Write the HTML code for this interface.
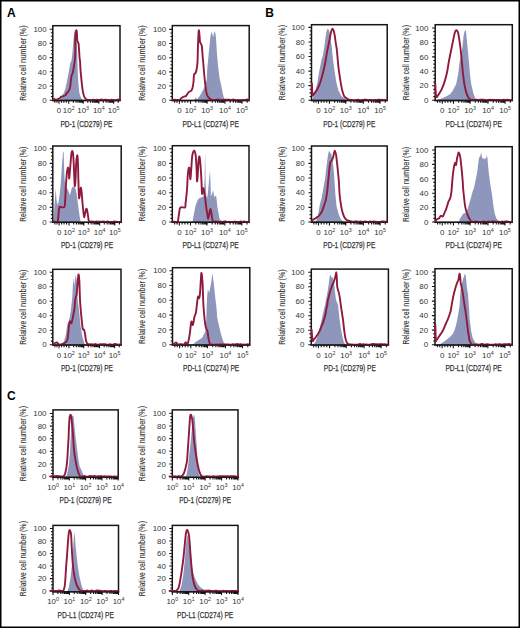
<!DOCTYPE html>
<html><head><meta charset="utf-8"><style>
html,body{margin:0;padding:0;background:#fff;width:520px;height:628px;overflow:hidden;}
svg{display:block;}
text{font-family:"Liberation Sans", sans-serif;fill:#333;}
.t{font-size:7.9px;}
.s{font-size:5.3px;}
.yt{font-size:9px;stroke:#3a3a3a;stroke-width:0.12px;}
.xt{font-size:8.8px;stroke:#3a3a3a;stroke-width:0.25px;}
.pl{font-size:12px;font-weight:bold;fill:#000;}
</style></head><body>
<svg width="520" height="628" viewBox="0 0 520 628">
<rect x="0" y="0" width="520" height="628" fill="#fff"/>
<g><polygon points="59.3,100.2 60.5,98.2 62,95.8 63.9,92.8 65.5,88.2 67,81.2 68.5,73.5 70.3,63 71.5,60.4 72.5,51.9 73.5,40.4 74.2,32.7 75,30 75.8,30.5 76.5,35 77,45 77.3,55 77.4,62 77.8,73.5 78.5,85.1 79.3,92.8 80.8,97.4 82.8,100.2" fill="#8f96bb"/><path d="M49.7 100.2H52.8M50.9 96.65H52.8M50.9 93.1H52.8M50.9 89.55H52.8M49.7 86H52.8M50.9 82.45H52.8M50.9 78.9H52.8M50.9 75.35H52.8M49.7 71.8H52.8M50.9 68.25H52.8M50.9 64.7H52.8M50.9 61.15H52.8M49.7 57.6H52.8M50.9 54.05H52.8M50.9 50.5H52.8M50.9 46.95H52.8M49.7 43.4H52.8M50.9 39.85H52.8M50.9 36.3H52.8M50.9 32.75H52.8M49.7 29.2H52.8M58.98 100.5V103.7M68.73 100.5V103.7M83.17 100.5V103.7M98.83 100.5V103.7M113.68 100.5V103.7M73.32 100.5V102.8M76 100.5V102.8M77.91 100.5V102.8M79.39 100.5V102.8M80.6 100.5V102.8M81.62 100.5V102.8M82.5 100.5V102.8M83.28 100.5V102.8M87.77 100.5V102.8M90.45 100.5V102.8M92.36 100.5V102.8M93.84 100.5V102.8M95.04 100.5V102.8M96.07 100.5V102.8M96.95 100.5V102.8M97.73 100.5V102.8M103.42 100.5V102.8M106.11 100.5V102.8M108.02 100.5V102.8M109.49 100.5V102.8M110.7 100.5V102.8M111.72 100.5V102.8M112.61 100.5V102.8M113.39 100.5V102.8M118.28 100.5V102.8M61.42 100.5V102.8M63.85 100.5V102.8M66.29 100.5V102.8M54.86 100.5V102.8M56.92 100.5V102.8" stroke="#161616" stroke-width="1.1" fill="none"/><rect x="52.8" y="25.7" width="67.2" height="74.8" fill="none" stroke="#161616" stroke-width="1.5"/><path d="M53 99.95C53.22 99.78 53.77 98.9 54.3 98.9C54.83 98.9 55.55 99.95 56.2 99.95C56.85 99.95 57.62 99.19 58.2 98.9C58.78 98.61 59.2 98.58 59.7 98.2C60.2 97.82 60.62 96.93 61.2 96.6C61.78 96.27 62.48 96.45 63.2 96.2C63.92 95.95 64.87 95.67 65.5 95.1C66.13 94.53 66.5 93.45 67 92.8C67.5 92.15 67.98 92.1 68.5 91.2C69.02 90.3 69.72 89.07 70.1 87.4C70.48 85.73 70.55 83.13 70.8 81.2C71.05 79.27 71.27 77.2 71.6 75.8C71.93 74.4 72.42 74.33 72.8 72.8C73.18 71.27 73.6 68.4 73.9 66.6C74.2 64.8 74.38 63.8 74.6 62C74.82 60.2 75.08 58.13 75.2 55.8C75.32 53.47 75.3 49.93 75.3 48C75.3 46.07 75.2 46.12 75.2 44.2C75.2 42.28 75.13 38.8 75.3 36.5C75.47 34.2 75.93 31.03 76.2 30.4C76.47 29.77 76.72 31.03 76.9 32.7C77.08 34.37 77.03 38.6 77.3 40.4C77.57 42.2 78.25 42.48 78.5 43.5C78.75 44.52 78.68 45.1 78.8 46.5C78.92 47.9 79.07 49.98 79.2 51.9C79.33 53.82 79.45 56.32 79.6 58C79.75 59.68 79.95 60.05 80.1 62C80.25 63.95 80.32 67.13 80.5 69.7C80.68 72.27 80.95 74.83 81.2 77.4C81.45 79.97 81.73 82.8 82 85.1C82.27 87.4 82.48 89.42 82.8 91.2C83.12 92.98 83.52 94.63 83.9 95.8C84.28 96.97 84.52 97.51 85.1 98.2C85.68 98.89 86.58 99.66 87.4 99.95C88.22 100.24 89.29 99.92 90 99.95C90.71 99.98 91.11 100.18 91.67 100.15C92.22 100.12 92.78 99.78 93.33 99.77C93.89 99.75 94.44 100.1 95 100.07C95.56 100.04 96.11 99.58 96.67 99.59C97.22 99.59 97.78 100.06 98.33 100.11C98.89 100.17 99.44 100.01 100 99.91C100.56 99.82 101.11 99.51 101.67 99.55C102.22 99.59 102.78 100.15 103.33 100.17C103.89 100.18 104.44 99.67 105 99.63C105.56 99.59 106.11 99.89 106.67 99.94C107.22 99.99 107.78 99.86 108.33 99.91C108.89 99.95 109.44 100.25 110 100.2C110.56 100.15 111.11 99.65 111.67 99.62C112.22 99.58 112.78 99.89 113.33 99.99C113.89 100.1 114.44 100.24 115 100.25C115.56 100.26 116.11 100.17 116.67 100.05C117.22 99.94 117.78 99.58 118.33 99.56C118.89 99.55 119.72 99.89 120 99.95" fill="none" stroke="#901a3c" stroke-width="1.9" stroke-linejoin="round" stroke-linecap="round"/><path d="M52.05 100.5H120.75" stroke="#161616" stroke-width="1.5" stroke-opacity="0.6"/><text x="46.6" y="102.9" text-anchor="end" class="t">0</text><text x="46.6" y="88.7" text-anchor="end" class="t">20</text><text x="46.6" y="74.5" text-anchor="end" class="t">40</text><text x="46.6" y="60.3" text-anchor="end" class="t">60</text><text x="46.6" y="46.1" text-anchor="end" class="t">80</text><text x="46.6" y="31.9" text-anchor="end" class="t">100</text><g class="yt" transform="translate(26.3 63.1) rotate(-90)"><text x="-37.6" textLength="23.8" lengthAdjust="spacingAndGlyphs">Relative</text><text x="-11.9" textLength="10.2" lengthAdjust="spacingAndGlyphs">cell</text><text x="0.2" textLength="25.2" lengthAdjust="spacingAndGlyphs">number</text><text x="26.6" textLength="11" lengthAdjust="spacingAndGlyphs">(%)</text></g><text x="58.98" y="113" text-anchor="middle" class="t">0</text><text x="68.73" y="113" text-anchor="middle" class="t">10<tspan class="s" dy="-3">2</tspan></text><text x="83.17" y="113" text-anchor="middle" class="t">10<tspan class="s" dy="-3">3</tspan></text><text x="98.83" y="113" text-anchor="middle" class="t">10<tspan class="s" dy="-3">4</tspan></text><text x="113.68" y="113" text-anchor="middle" class="t">10<tspan class="s" dy="-3">5</tspan></text><text x="86.4" y="126.5" text-anchor="middle" class="xt" textLength="52" lengthAdjust="spacingAndGlyphs">PD-1 (CD279) PE</text></g>
<g><polygon points="194,100.2 195.5,97.5 197,99.3 198.7,97.4 201.1,93.7 203.6,88.8 205.5,84 206.7,80.2 207.3,68 208.5,55.7 209.7,43.4 210.5,36 211.6,31.7 212.4,34 213.2,37.3 214,33 214.6,31.1 215.3,33 215.9,37.3 216.5,46 217.1,55.7 218.3,68 219.5,77.8 221.4,86.3 222.6,92.5 223.8,97.4 225,100.2" fill="#8f96bb"/><path d="M169.2 100.2H172.3M170.4 96.66H172.3M170.4 93.12H172.3M170.4 89.58H172.3M169.2 86.04H172.3M170.4 82.5H172.3M170.4 78.96H172.3M170.4 75.42H172.3M169.2 71.88H172.3M170.4 68.34H172.3M170.4 64.8H172.3M170.4 61.26H172.3M169.2 57.72H172.3M170.4 54.18H172.3M170.4 50.64H172.3M170.4 47.1H172.3M169.2 43.56H172.3M170.4 40.02H172.3M170.4 36.48H172.3M170.4 32.94H172.3M169.2 29.4H172.3M179.37 100.5V103.7M190.53 100.5V103.7M207.06 100.5V103.7M224.98 100.5V103.7M241.97 100.5V103.7M195.78 100.5V102.8M198.85 100.5V102.8M201.04 100.5V102.8M202.73 100.5V102.8M204.11 100.5V102.8M205.28 100.5V102.8M206.29 100.5V102.8M207.18 100.5V102.8M212.31 100.5V102.8M215.39 100.5V102.8M217.57 100.5V102.8M219.26 100.5V102.8M220.64 100.5V102.8M221.81 100.5V102.8M222.82 100.5V102.8M223.72 100.5V102.8M230.23 100.5V102.8M233.31 100.5V102.8M235.49 100.5V102.8M237.18 100.5V102.8M238.56 100.5V102.8M239.73 100.5V102.8M240.74 100.5V102.8M241.63 100.5V102.8M247.23 100.5V102.8M182.16 100.5V102.8M184.95 100.5V102.8M187.74 100.5V102.8M174.66 100.5V102.8M177.02 100.5V102.8" stroke="#161616" stroke-width="1.1" fill="none"/><rect x="172.3" y="25.6" width="76.9" height="74.9" fill="none" stroke="#161616" stroke-width="1.5"/><path d="M173 99.95C173.33 99.92 174.33 99.78 175 99.78C175.67 99.78 176.25 99.92 177 99.95C177.75 99.98 178.75 100.28 179.5 99.95C180.25 99.62 180.92 98.49 181.5 98C182.08 97.51 182.5 97.25 183 97C183.5 96.75 184 96.67 184.5 96.5C185 96.33 185.42 96.58 186 96C186.58 95.42 187.42 93.75 188 93C188.58 92.25 189 91.83 189.5 91.5C190 91.17 190.5 91.58 191 91C191.5 90.42 192.08 89.5 192.5 88C192.92 86.5 193.25 84.17 193.5 82C193.75 79.83 193.67 76.5 194 75C194.33 73.5 195.08 73.83 195.5 73C195.92 72.17 196.17 71.83 196.5 70C196.83 68.17 197.27 65.67 197.5 62C197.73 58.33 197.78 51.6 197.9 48C198.02 44.4 198.05 43.33 198.2 40.4C198.35 37.47 198.57 31.05 198.8 30.4C199.03 29.75 199.4 34.58 199.6 36.5C199.8 38.42 199.73 40.62 200 41.9C200.27 43.18 200.88 43.43 201.2 44.2C201.52 44.97 201.72 45.22 201.9 46.5C202.08 47.78 202.15 49.97 202.3 51.9C202.45 53.83 202.63 56.25 202.8 58.1C202.97 59.95 203.1 60.68 203.3 63C203.5 65.32 203.72 68.83 204 72C204.28 75.17 204.67 79 205 82C205.33 85 205.67 87.83 206 90C206.33 92.17 206.5 93.67 207 95C207.5 96.33 208.17 97.17 209 98C209.83 98.83 211.23 99.6 212 99.95C212.77 100.3 213.07 100.1 213.61 100.09C214.14 100.09 214.68 99.97 215.22 99.91C215.75 99.85 216.29 99.78 216.83 99.71C217.36 99.65 217.9 99.44 218.43 99.52C218.97 99.6 219.51 100.09 220.04 100.18C220.58 100.27 221.12 100.11 221.65 100.06C222.19 100.02 222.72 99.99 223.26 99.92C223.8 99.85 224.33 99.65 224.87 99.63C225.41 99.61 225.94 99.8 226.48 99.81C227.01 99.81 227.55 99.69 228.09 99.66C228.62 99.63 229.16 99.56 229.7 99.64C230.23 99.73 230.77 100.17 231.3 100.16C231.84 100.15 232.38 99.63 232.91 99.57C233.45 99.52 233.99 99.73 234.52 99.85C235.06 99.97 235.59 100.28 236.13 100.3C236.67 100.31 237.2 99.95 237.74 99.94C238.28 99.94 238.81 100.26 239.35 100.29C239.88 100.32 240.42 100.15 240.96 100.11C241.49 100.08 242.03 100.09 242.57 100.07C243.1 100.06 243.64 100.08 244.17 100.04C244.71 100 245.25 99.91 245.78 99.82C246.32 99.73 246.86 99.48 247.39 99.5C247.93 99.53 248.73 99.88 249 99.95" fill="none" stroke="#901a3c" stroke-width="1.9" stroke-linejoin="round" stroke-linecap="round"/><path d="M171.55 100.5H249.95" stroke="#161616" stroke-width="1.5" stroke-opacity="0.6"/><text x="166.1" y="102.9" text-anchor="end" class="t">0</text><text x="166.1" y="88.74" text-anchor="end" class="t">20</text><text x="166.1" y="74.58" text-anchor="end" class="t">40</text><text x="166.1" y="60.42" text-anchor="end" class="t">60</text><text x="166.1" y="46.26" text-anchor="end" class="t">80</text><text x="166.1" y="32.1" text-anchor="end" class="t">100</text><g class="yt" transform="translate(144.8 63.05) rotate(-90)"><text x="-37.6" textLength="23.8" lengthAdjust="spacingAndGlyphs">Relative</text><text x="-11.9" textLength="10.2" lengthAdjust="spacingAndGlyphs">cell</text><text x="0.2" textLength="25.2" lengthAdjust="spacingAndGlyphs">number</text><text x="26.6" textLength="11" lengthAdjust="spacingAndGlyphs">(%)</text></g><text x="179.37" y="113" text-anchor="middle" class="t">0</text><text x="190.53" y="113" text-anchor="middle" class="t">10<tspan class="s" dy="-3">2</tspan></text><text x="207.06" y="113" text-anchor="middle" class="t">10<tspan class="s" dy="-3">3</tspan></text><text x="224.98" y="113" text-anchor="middle" class="t">10<tspan class="s" dy="-3">4</tspan></text><text x="241.97" y="113" text-anchor="middle" class="t">10<tspan class="s" dy="-3">5</tspan></text><text x="210.75" y="126.5" text-anchor="middle" class="xt" textLength="56.3" lengthAdjust="spacingAndGlyphs">PD-L1 (CD274) PE</text></g>
<g><polygon points="53.5,222 54.5,205 55.7,188.3 56.5,200 57.5,204.9 58.5,202 60,192 61,180 61.6,170 62.4,160 63.1,150.9 63.7,153 64.2,170 64.6,180 65.5,185 66.8,188 68,190 69.2,193 69.9,195.4 70.8,192 71.5,189 72.5,187 73.5,186.5 74.5,187 75.6,189 76.5,193 77.5,200 78.4,207.3 79.3,214 80.2,219.6 80.8,222" fill="#8f96bb"/><path d="M49.7 222H52.8M50.9 218.34H52.8M50.9 214.67H52.8M50.9 211H52.8M49.7 207.34H52.8M50.9 203.68H52.8M50.9 200.01H52.8M50.9 196.34H52.8M49.7 192.68H52.8M50.9 189.01H52.8M50.9 185.35H52.8M50.9 181.69H52.8M49.7 178.02H52.8M50.9 174.35H52.8M50.9 170.69H52.8M50.9 167.02H52.8M49.7 163.36H52.8M50.9 159.69H52.8M50.9 156.03H52.8M50.9 152.37H52.8M49.7 148.7H52.8M59.09 222.3V225.5M69.01 222.3V225.5M83.72 222.3V225.5M99.65 222.3V225.5M114.77 222.3V225.5M73.68 222.3V224.6M76.42 222.3V224.6M78.36 222.3V224.6M79.86 222.3V224.6M81.09 222.3V224.6M82.13 222.3V224.6M83.03 222.3V224.6M83.83 222.3V224.6M88.39 222.3V224.6M91.12 222.3V224.6M93.06 222.3V224.6M94.57 222.3V224.6M95.8 222.3V224.6M96.84 222.3V224.6M97.74 222.3V224.6M98.53 222.3V224.6M104.33 222.3V224.6M107.06 222.3V224.6M109 222.3V224.6M110.51 222.3V224.6M111.74 222.3V224.6M112.78 222.3V224.6M113.68 222.3V224.6M114.47 222.3V224.6M119.44 222.3V224.6M61.57 222.3V224.6M64.05 222.3V224.6M66.53 222.3V224.6M54.9 222.3V224.6M57 222.3V224.6" stroke="#161616" stroke-width="1.1" fill="none"/><rect x="52.8" y="146" width="68.4" height="76.3" fill="none" stroke="#161616" stroke-width="1.5"/><path d="M54 221.75C54.3 221.73 55.2 221.63 55.8 221.63C56.4 221.63 57.15 222.85 57.6 221.75C58.05 220.65 58.2 217.41 58.5 215C58.8 212.59 58.82 208.58 59.4 207.3C59.98 206.02 61.18 207.35 62 207.3C62.82 207.25 63.8 207.72 64.3 207C64.8 206.28 64.7 207.03 65 203C65.3 198.97 65.77 187.97 66.1 182.8C66.43 177.63 66.68 174.55 67 172C67.32 169.45 67.7 167.5 68 167.5C68.3 167.5 68.6 170.17 68.8 172C69 173.83 69 178.83 69.2 178.5C69.4 178.17 69.73 173.08 70 170C70.27 166.92 70.55 162.83 70.8 160C71.05 157.17 71.27 154.52 71.5 153C71.73 151.48 71.95 150.9 72.2 150.9C72.45 150.9 72.73 150.65 73 153C73.27 155.35 73.52 159.62 73.8 165C74.08 170.38 74.42 182.8 74.7 185.3C74.98 187.8 75.25 183.72 75.5 180C75.75 176.28 75.92 167.13 76.2 163C76.48 158.87 76.92 155.37 77.2 155.2C77.48 155.03 77.7 157.87 77.9 162C78.1 166.13 78.22 174.08 78.4 180C78.58 185.92 78.77 195 79 197.5C79.23 200 79.5 196.63 79.8 195C80.1 193.37 80.48 188.03 80.8 187.7C81.12 187.37 81.42 190.45 81.7 193C81.98 195.55 82.23 200 82.5 203C82.77 206 83.03 208.63 83.3 211C83.57 213.37 83.78 216.87 84.1 217.2C84.42 217.53 84.87 214.33 85.2 213C85.53 211.67 85.8 209.78 86.1 209.2C86.4 208.62 86.7 208.53 87 209.5C87.3 210.47 87.6 213.12 87.9 215C88.2 216.88 88.45 219.68 88.8 220.8C89.15 221.93 89.53 221.63 90 221.75C90.47 221.87 91.09 221.55 91.63 221.54C92.18 221.53 92.72 221.63 93.26 221.68C93.81 221.73 94.35 221.88 94.89 221.84C95.44 221.79 95.98 221.45 96.53 221.42C97.07 221.4 97.61 221.64 98.16 221.68C98.7 221.71 99.25 221.61 99.79 221.63C100.33 221.65 100.88 221.84 101.42 221.8C101.96 221.75 102.51 221.35 103.05 221.35C103.6 221.35 104.14 221.72 104.68 221.79C105.23 221.87 105.77 221.85 106.32 221.8C106.86 221.76 107.4 221.48 107.95 221.53C108.49 221.57 109.04 222.04 109.58 222.09C110.12 222.15 110.67 221.89 111.21 221.85C111.75 221.81 112.3 221.92 112.84 221.85C113.39 221.77 113.93 221.4 114.47 221.39C115.02 221.39 115.56 221.73 116.11 221.81C116.65 221.9 117.19 221.88 117.74 221.89C118.28 221.9 118.82 221.88 119.37 221.86C119.91 221.84 120.73 221.77 121 221.75" fill="none" stroke="#901a3c" stroke-width="1.9" stroke-linejoin="round" stroke-linecap="round"/><path d="M52.05 222.3H121.95" stroke="#161616" stroke-width="1.5" stroke-opacity="0.6"/><text x="46.6" y="224.7" text-anchor="end" class="t">0</text><text x="46.6" y="210.04" text-anchor="end" class="t">20</text><text x="46.6" y="195.38" text-anchor="end" class="t">40</text><text x="46.6" y="180.72" text-anchor="end" class="t">60</text><text x="46.6" y="166.06" text-anchor="end" class="t">80</text><text x="46.6" y="151.4" text-anchor="end" class="t">100</text><g class="yt" transform="translate(26.3 184.15) rotate(-90)"><text x="-37.6" textLength="23.8" lengthAdjust="spacingAndGlyphs">Relative</text><text x="-11.9" textLength="10.2" lengthAdjust="spacingAndGlyphs">cell</text><text x="0.2" textLength="25.2" lengthAdjust="spacingAndGlyphs">number</text><text x="26.6" textLength="11" lengthAdjust="spacingAndGlyphs">(%)</text></g><text x="59.09" y="234.8" text-anchor="middle" class="t">0</text><text x="69.01" y="234.8" text-anchor="middle" class="t">10<tspan class="s" dy="-3">2</tspan></text><text x="83.72" y="234.8" text-anchor="middle" class="t">10<tspan class="s" dy="-3">3</tspan></text><text x="99.65" y="234.8" text-anchor="middle" class="t">10<tspan class="s" dy="-3">4</tspan></text><text x="114.77" y="234.8" text-anchor="middle" class="t">10<tspan class="s" dy="-3">5</tspan></text><text x="87" y="248.3" text-anchor="middle" class="xt" textLength="52" lengthAdjust="spacingAndGlyphs">PD-1 (CD279) PE</text></g>
<g><polygon points="192.5,222 193.5,216 194.5,211 195.5,206 196.5,203 198,199.5 199.5,198 201,197.5 202.5,197 203.8,196 204.6,180 205.1,151.8 205.6,180 206.3,196 207.3,197.5 208.2,190 208.9,182 210,170.5 210.6,185 210.9,196.5 212,194 213,190.3 214,195 214.6,197.5 215.4,196 216.1,195.5 217,203 217.7,209 219.2,217.3 220.3,222" fill="#8f96bb"/><path d="M169.2 222H172.3M170.4 218.34H172.3M170.4 214.67H172.3M170.4 211H172.3M169.2 207.34H172.3M170.4 203.68H172.3M170.4 200.01H172.3M170.4 196.34H172.3M169.2 192.68H172.3M170.4 189.01H172.3M170.4 185.35H172.3M170.4 181.69H172.3M169.2 178.02H172.3M170.4 174.35H172.3M170.4 170.69H172.3M170.4 167.02H172.3M169.2 163.36H172.3M170.4 159.69H172.3M170.4 156.03H172.3M170.4 152.37H172.3M169.2 148.7H172.3M179.36 222.3V225.5M190.48 222.3V225.5M206.97 222.3V225.5M224.84 222.3V225.5M241.79 222.3V225.5M195.72 222.3V224.6M198.79 222.3V224.6M200.96 222.3V224.6M202.65 222.3V224.6M204.03 222.3V224.6M205.19 222.3V224.6M206.2 222.3V224.6M207.09 222.3V224.6M212.21 222.3V224.6M215.28 222.3V224.6M217.45 222.3V224.6M219.14 222.3V224.6M220.52 222.3V224.6M221.68 222.3V224.6M222.69 222.3V224.6M223.58 222.3V224.6M230.08 222.3V224.6M233.15 222.3V224.6M235.32 222.3V224.6M237.01 222.3V224.6M238.39 222.3V224.6M239.55 222.3V224.6M240.56 222.3V224.6M241.45 222.3V224.6M247.03 222.3V224.6M182.14 222.3V224.6M184.92 222.3V224.6M187.7 222.3V224.6M174.65 222.3V224.6M177 222.3V224.6" stroke="#161616" stroke-width="1.1" fill="none"/><rect x="172.3" y="145.7" width="76.7" height="76.6" fill="none" stroke="#161616" stroke-width="1.5"/><path d="M173 221.75C173.39 221.77 174.57 221.86 175.35 221.86C176.13 221.86 177.09 223.06 177.7 221.75C178.31 220.44 178.57 216.36 179 214C179.43 211.64 179.3 208.7 180.3 207.6C181.3 206.5 184.13 208.03 185 207.4C185.87 206.77 185.25 205.87 185.5 203.8C185.75 201.73 186.23 197.6 186.5 195C186.77 192.4 186.88 191.53 187.1 188.2C187.32 184.87 187.48 178.43 187.8 175C188.12 171.57 188.68 168.1 189 167.6C189.32 167.1 189.47 170.07 189.7 172C189.93 173.93 190.15 179.53 190.4 179.2C190.65 178.87 190.88 173.93 191.2 170C191.52 166.07 191.8 158.8 192.3 155.6C192.8 152.4 193.63 150.8 194.2 150.8C194.77 150.8 195.3 152.4 195.7 155.6C196.1 158.8 196.38 165.77 196.6 170C196.82 174.23 196.83 179.83 197 181C197.17 182.17 197.33 180.43 197.6 177C197.87 173.57 198.28 163.8 198.6 160.4C198.92 157 199.18 155.8 199.5 156.6C199.82 157.4 200.18 161.37 200.5 165.2C200.82 169.03 201.18 175.47 201.4 179.6C201.62 183.73 201.67 187.6 201.8 190C201.93 192.4 201.97 194.3 202.2 194C202.43 193.7 202.87 188.53 203.2 188.2C203.53 187.87 203.87 190.27 204.2 192C204.53 193.73 204.87 196.1 205.2 198.6C205.53 201.1 205.85 204.4 206.2 207C206.55 209.6 206.95 212.23 207.3 214.2C207.65 216.17 207.95 219 208.3 218.8C208.65 218.6 209.05 214.63 209.4 213C209.75 211.37 210.1 209.17 210.4 209C210.7 208.83 210.93 210.62 211.2 212C211.47 213.38 211.7 215.68 212 217.3C212.3 218.93 212.67 221.01 213 221.75C213.33 222.49 213.56 221.78 214 221.75C214.44 221.72 215.11 221.57 215.67 221.57C216.22 221.57 216.78 221.73 217.33 221.76C217.89 221.79 218.44 221.78 219 221.75C219.56 221.71 220.11 221.48 220.67 221.53C221.22 221.58 221.78 222.02 222.33 222.02C222.89 222.02 223.44 221.63 224 221.52C224.56 221.4 225.11 221.27 225.67 221.35C226.22 221.43 226.78 221.92 227.33 221.99C227.89 222.06 228.44 221.77 229 221.77C229.56 221.77 230.11 221.98 230.67 222C231.22 222.03 231.78 221.94 232.33 221.91C232.89 221.87 233.44 221.83 234 221.81C234.56 221.78 235.11 221.77 235.67 221.78C236.22 221.78 236.78 221.8 237.33 221.84C237.89 221.89 238.44 222.12 239 222.04C239.56 221.97 240.11 221.45 240.67 221.42C241.22 221.38 241.78 221.85 242.33 221.85C242.89 221.84 243.44 221.39 244 221.4C244.56 221.41 245.11 221.83 245.67 221.92C246.22 222.01 246.78 221.97 247.33 221.94C247.89 221.91 248.72 221.78 249 221.75" fill="none" stroke="#901a3c" stroke-width="1.9" stroke-linejoin="round" stroke-linecap="round"/><path d="M171.55 222.3H249.75" stroke="#161616" stroke-width="1.5" stroke-opacity="0.6"/><text x="166.1" y="224.7" text-anchor="end" class="t">0</text><text x="166.1" y="210.04" text-anchor="end" class="t">20</text><text x="166.1" y="195.38" text-anchor="end" class="t">40</text><text x="166.1" y="180.72" text-anchor="end" class="t">60</text><text x="166.1" y="166.06" text-anchor="end" class="t">80</text><text x="166.1" y="151.4" text-anchor="end" class="t">100</text><g class="yt" transform="translate(144.8 184) rotate(-90)"><text x="-37.6" textLength="23.8" lengthAdjust="spacingAndGlyphs">Relative</text><text x="-11.9" textLength="10.2" lengthAdjust="spacingAndGlyphs">cell</text><text x="0.2" textLength="25.2" lengthAdjust="spacingAndGlyphs">number</text><text x="26.6" textLength="11" lengthAdjust="spacingAndGlyphs">(%)</text></g><text x="179.36" y="234.8" text-anchor="middle" class="t">0</text><text x="190.48" y="234.8" text-anchor="middle" class="t">10<tspan class="s" dy="-3">2</tspan></text><text x="206.97" y="234.8" text-anchor="middle" class="t">10<tspan class="s" dy="-3">3</tspan></text><text x="224.84" y="234.8" text-anchor="middle" class="t">10<tspan class="s" dy="-3">4</tspan></text><text x="241.79" y="234.8" text-anchor="middle" class="t">10<tspan class="s" dy="-3">5</tspan></text><text x="210.65" y="248.3" text-anchor="middle" class="xt" textLength="56.3" lengthAdjust="spacingAndGlyphs">PD-L1 (CD274) PE</text></g>
<g><polygon points="60.4,344.7 63.9,341.9 65.9,334.3 67.3,324.6 69.4,319 70.8,310.7 72.2,298.2 73.3,277.5 74.2,285.8 75.6,274.7 77,281.6 77.7,299.6 79.1,310.7 80.5,326 82.5,337 84.3,343.3 85.3,344.7" fill="#8f96bb"/><path d="M49.7 344.7H52.8M50.9 341.08H52.8M50.9 337.46H52.8M50.9 333.84H52.8M49.7 330.22H52.8M50.9 326.6H52.8M50.9 322.98H52.8M50.9 319.36H52.8M49.7 315.74H52.8M50.9 312.12H52.8M50.9 308.5H52.8M50.9 304.88H52.8M49.7 301.26H52.8M50.9 297.64H52.8M50.9 294.02H52.8M50.9 290.4H52.8M49.7 286.78H52.8M50.9 283.16H52.8M50.9 279.54H52.8M50.9 275.92H52.8M49.7 272.3H52.8M59.07 345V348.2M68.96 345V348.2M83.63 345V348.2M99.52 345V348.2M114.59 345V348.2M73.62 345V347.3M76.35 345V347.3M78.28 345V347.3M79.78 345V347.3M81.01 345V347.3M82.05 345V347.3M82.94 345V347.3M83.74 345V347.3M88.29 345V347.3M91.01 345V347.3M92.95 345V347.3M94.45 345V347.3M95.67 345V347.3M96.71 345V347.3M97.61 345V347.3M98.4 345V347.3M104.18 345V347.3M106.9 345V347.3M108.84 345V347.3M110.34 345V347.3M111.56 345V347.3M112.6 345V347.3M113.5 345V347.3M114.29 345V347.3M119.25 345V347.3M61.55 345V347.3M64.02 345V347.3M66.49 345V347.3M54.89 345V347.3M56.98 345V347.3" stroke="#161616" stroke-width="1.1" fill="none"/><rect x="52.8" y="269.3" width="68.2" height="75.7" fill="none" stroke="#161616" stroke-width="1.5"/><path d="M53 344.45C53.33 344.21 54.33 343.32 55 343C55.67 342.68 56.33 342.26 57 342.5C57.67 342.74 58.33 344.12 59 344.45C59.67 344.77 60.25 344.61 61 344.45C61.75 344.29 62.92 343.76 63.5 343.5C64.08 343.24 64 343.22 64.5 342.9C65 342.58 66.03 342.08 66.5 341.6C66.97 341.12 67.08 340.65 67.3 340C67.52 339.35 67.6 339.18 67.8 337.7C68 336.22 68.28 333.28 68.5 331.1C68.72 328.92 68.83 326.23 69.1 324.6C69.37 322.97 69.72 321.52 70.1 321.3C70.48 321.08 70.97 323.83 71.4 323.3C71.83 322.77 72.27 320.07 72.7 318.1C73.13 316.13 73.68 313.27 74 311.5C74.32 309.73 74.42 309.25 74.6 307.5C74.78 305.75 74.93 302.63 75.1 301C75.27 299.37 75.35 298.78 75.6 297.7C75.85 296.62 76.33 296.1 76.6 294.5C76.87 292.9 77 290.23 77.2 288.1C77.4 285.97 77.65 283.55 77.8 281.7C77.95 279.85 77.98 278.22 78.1 277C78.22 275.78 78.37 274.57 78.5 274.4C78.63 274.23 78.75 274.78 78.9 276C79.05 277.22 79.27 279.15 79.4 281.7C79.53 284.25 79.57 287.75 79.7 291.3C79.83 294.85 79.95 299.08 80.2 303C80.45 306.92 80.87 311.2 81.2 314.8C81.53 318.4 81.93 322.2 82.2 324.6C82.47 327 82.48 328.33 82.8 329.2C83.12 330.07 83.72 328.93 84.1 329.8C84.48 330.67 84.77 332.53 85.1 334.4C85.43 336.27 85.72 339.47 86.1 341C86.48 342.53 86.92 343.03 87.4 343.6C87.88 344.18 88.47 344.34 89 344.45C89.53 344.56 90.07 344.27 90.6 344.25C91.13 344.24 91.67 344.31 92.2 344.35C92.73 344.39 93.27 344.56 93.8 344.51C94.33 344.45 94.87 343.99 95.4 344.03C95.93 344.07 96.47 344.68 97 344.77C97.53 344.86 98.07 344.67 98.6 344.58C99.13 344.49 99.67 344.27 100.2 344.23C100.73 344.2 101.27 344.36 101.8 344.35C102.33 344.35 102.87 344.21 103.4 344.19C103.93 344.18 104.47 344.18 105 344.26C105.53 344.34 106.07 344.6 106.6 344.68C107.13 344.77 107.67 344.89 108.2 344.79C108.73 344.7 109.27 344.12 109.8 344.1C110.33 344.08 110.87 344.6 111.4 344.7C111.93 344.8 112.47 344.82 113 344.71C113.53 344.6 114.07 344.12 114.6 344.03C115.13 343.95 115.67 344.09 116.2 344.21C116.73 344.32 117.27 344.67 117.8 344.72C118.33 344.76 118.87 344.52 119.4 344.47C119.93 344.43 120.73 344.45 121 344.45" fill="none" stroke="#901a3c" stroke-width="1.9" stroke-linejoin="round" stroke-linecap="round"/><path d="M52.05 345H121.75" stroke="#161616" stroke-width="1.5" stroke-opacity="0.6"/><text x="46.6" y="347.4" text-anchor="end" class="t">0</text><text x="46.6" y="332.92" text-anchor="end" class="t">20</text><text x="46.6" y="318.44" text-anchor="end" class="t">40</text><text x="46.6" y="303.96" text-anchor="end" class="t">60</text><text x="46.6" y="289.48" text-anchor="end" class="t">80</text><text x="46.6" y="275" text-anchor="end" class="t">100</text><g class="yt" transform="translate(26.3 307.15) rotate(-90)"><text x="-37.6" textLength="23.8" lengthAdjust="spacingAndGlyphs">Relative</text><text x="-11.9" textLength="10.2" lengthAdjust="spacingAndGlyphs">cell</text><text x="0.2" textLength="25.2" lengthAdjust="spacingAndGlyphs">number</text><text x="26.6" textLength="11" lengthAdjust="spacingAndGlyphs">(%)</text></g><text x="59.07" y="357.5" text-anchor="middle" class="t">0</text><text x="68.96" y="357.5" text-anchor="middle" class="t">10<tspan class="s" dy="-3">2</tspan></text><text x="83.63" y="357.5" text-anchor="middle" class="t">10<tspan class="s" dy="-3">3</tspan></text><text x="99.52" y="357.5" text-anchor="middle" class="t">10<tspan class="s" dy="-3">4</tspan></text><text x="114.59" y="357.5" text-anchor="middle" class="t">10<tspan class="s" dy="-3">5</tspan></text><text x="86.9" y="371" text-anchor="middle" class="xt" textLength="52" lengthAdjust="spacingAndGlyphs">PD-1 (CD279) PE</text></g>
<g><polygon points="193,344.7 195,342.4 198.6,340 200.5,339 202.3,337.5 203.5,335 204.8,332.5 205.6,330 206,326 206.4,315 206.7,305.2 207.2,296 207.9,289.1 208.5,291 209.2,292.8 210,289 210.8,285 211.5,280 212.5,273 213.3,280 214.1,286.6 215.4,299 216.6,308.9 217.2,317.6 219.1,326.3 220.9,333.8 222.8,340 224,343 225,344 226.5,343.5 228,344.7" fill="#8f96bb"/><path d="M169.4 344.7H172.5M170.6 341H172.5M170.6 337.3H172.5M170.6 333.6H172.5M169.4 329.9H172.5M170.6 326.2H172.5M170.6 322.5H172.5M170.6 318.8H172.5M169.4 315.1H172.5M170.6 311.4H172.5M170.6 307.7H172.5M170.6 304H172.5M169.4 300.3H172.5M170.6 296.6H172.5M170.6 292.9H172.5M170.6 289.2H172.5M169.4 285.5H172.5M170.6 281.8H172.5M170.6 278.1H172.5M170.6 274.4H172.5M169.4 270.7H172.5M179.61 345V348.2M190.82 345V348.2M207.44 345V348.2M225.45 345V348.2M242.53 345V348.2M196.1 345V347.3M199.19 345V347.3M201.38 345V347.3M203.08 345V347.3M204.47 345V347.3M205.65 345V347.3M206.67 345V347.3M207.56 345V347.3M212.72 345V347.3M215.81 345V347.3M218 345V347.3M219.7 345V347.3M221.09 345V347.3M222.27 345V347.3M223.29 345V347.3M224.18 345V347.3M230.73 345V347.3M233.82 345V347.3M236.01 345V347.3M237.72 345V347.3M239.1 345V347.3M240.28 345V347.3M241.3 345V347.3M242.19 345V347.3M247.82 345V347.3M182.41 345V347.3M185.22 345V347.3M188.02 345V347.3M174.87 345V347.3M177.24 345V347.3" stroke="#161616" stroke-width="1.1" fill="none"/><rect x="172.5" y="267.7" width="77.3" height="77.3" fill="none" stroke="#161616" stroke-width="1.5"/><path d="M173 344.45C173.33 344.21 174.45 343.31 175 343C175.55 342.69 175.8 342.36 176.3 342.6C176.8 342.84 177.38 344.18 178 344.45C178.62 344.72 179.33 344.21 180 344.19C180.67 344.18 181.33 344.32 182 344.37C182.67 344.41 183.37 344.79 184 344.45C184.63 344.11 185.22 342.3 185.8 342.3C186.38 342.3 186.85 345.77 187.5 344.45C188.15 343.13 189.07 338.17 189.7 334.4C190.33 330.62 190.77 323.37 191.3 321.8C191.83 320.23 192.38 325.8 192.9 325C193.42 324.2 193.88 319.12 194.4 317C194.92 314.88 195.55 314.65 196 312.3C196.45 309.95 196.75 305.53 197.1 302.9C197.45 300.27 197.75 297.3 198.1 296.5C198.45 295.7 198.88 298.62 199.2 298.1C199.52 297.58 199.73 296.28 200 293.4C200.27 290.52 200.55 284.22 200.8 280.8C201.05 277.38 201.2 272.38 201.5 272.9C201.8 273.42 202.28 278.65 202.6 283.9C202.92 289.15 203.05 298.35 203.4 304.4C203.75 310.45 204.27 316.25 204.7 320.2C205.13 324.15 205.53 326.27 206 328.1C206.47 329.93 207.07 329.37 207.5 331.2C207.93 333.03 208.15 336.89 208.6 339.1C209.05 341.31 209.63 343.56 210.2 344.45C210.77 345.34 211.43 344.41 212 344.45C212.57 344.49 213.07 344.67 213.61 344.71C214.14 344.74 214.68 344.68 215.22 344.65C215.75 344.61 216.29 344.47 216.83 344.48C217.36 344.49 217.9 344.72 218.43 344.7C218.97 344.68 219.51 344.44 220.04 344.38C220.58 344.32 221.12 344.32 221.65 344.33C222.19 344.34 222.72 344.41 223.26 344.44C223.8 344.47 224.33 344.47 224.87 344.5C225.41 344.53 225.94 344.62 226.48 344.61C227.01 344.59 227.55 344.4 228.09 344.41C228.62 344.41 229.16 344.6 229.7 344.64C230.23 344.67 230.77 344.7 231.3 344.63C231.84 344.55 232.38 344.2 232.91 344.18C233.45 344.16 233.99 344.5 234.52 344.49C235.06 344.48 235.59 344.17 236.13 344.1C236.67 344.04 237.2 344.04 237.74 344.1C238.28 344.15 238.81 344.41 239.35 344.44C239.88 344.47 240.42 344.24 240.96 344.29C241.49 344.34 242.03 344.72 242.57 344.74C243.1 344.76 243.64 344.42 244.17 344.43C244.71 344.44 245.25 344.84 245.78 344.8C246.32 344.75 246.86 344.22 247.39 344.16C247.93 344.11 248.73 344.4 249 344.45" fill="none" stroke="#901a3c" stroke-width="1.9" stroke-linejoin="round" stroke-linecap="round"/><path d="M171.75 345H250.55" stroke="#161616" stroke-width="1.5" stroke-opacity="0.6"/><text x="166.3" y="347.4" text-anchor="end" class="t">0</text><text x="166.3" y="332.6" text-anchor="end" class="t">20</text><text x="166.3" y="317.8" text-anchor="end" class="t">40</text><text x="166.3" y="303" text-anchor="end" class="t">60</text><text x="166.3" y="288.2" text-anchor="end" class="t">80</text><text x="166.3" y="273.4" text-anchor="end" class="t">100</text><g class="yt" transform="translate(144.8 306.35) rotate(-90)"><text x="-37.6" textLength="23.8" lengthAdjust="spacingAndGlyphs">Relative</text><text x="-11.9" textLength="10.2" lengthAdjust="spacingAndGlyphs">cell</text><text x="0.2" textLength="25.2" lengthAdjust="spacingAndGlyphs">number</text><text x="26.6" textLength="11" lengthAdjust="spacingAndGlyphs">(%)</text></g><text x="179.61" y="357.5" text-anchor="middle" class="t">0</text><text x="190.82" y="357.5" text-anchor="middle" class="t">10<tspan class="s" dy="-3">2</tspan></text><text x="207.44" y="357.5" text-anchor="middle" class="t">10<tspan class="s" dy="-3">3</tspan></text><text x="225.45" y="357.5" text-anchor="middle" class="t">10<tspan class="s" dy="-3">4</tspan></text><text x="242.53" y="357.5" text-anchor="middle" class="t">10<tspan class="s" dy="-3">5</tspan></text><text x="211.15" y="371" text-anchor="middle" class="xt" textLength="56.3" lengthAdjust="spacingAndGlyphs">PD-L1 (CD274) PE</text></g>
<g><polygon points="312,100.2 313.1,96.9 315.4,90.8 317.3,83.1 319.2,71.5 321.5,60 322.8,55.8 324.4,46.3 325.6,36.7 326.6,31 327.6,28.8 328.6,29.5 329.5,32 330.2,36 331,42 331.7,46.3 332.4,54 333.1,60 334.6,71.5 336.5,83.1 338.5,90.8 341.5,96.2 344.6,98.5 347,100.2" fill="#8f96bb"/><path d="M308.4 100.2H311.5M309.6 96.56H311.5M309.6 92.92H311.5M309.6 89.28H311.5M308.4 85.64H311.5M309.6 82H311.5M309.6 78.36H311.5M309.6 74.72H311.5M308.4 71.08H311.5M309.6 67.44H311.5M309.6 63.8H311.5M309.6 60.16H311.5M308.4 56.52H311.5M309.6 52.88H311.5M309.6 49.24H311.5M309.6 45.6H311.5M308.4 41.96H311.5M309.6 38.32H311.5M309.6 34.68H311.5M309.6 31.04H311.5M308.4 27.4H311.5M318.46 100.5V103.7M329.44 100.5V103.7M345.72 100.5V103.7M363.35 100.5V103.7M380.08 100.5V103.7M334.61 100.5V102.8M337.64 100.5V102.8M339.79 100.5V102.8M341.45 100.5V102.8M342.81 100.5V102.8M343.96 100.5V102.8M344.96 100.5V102.8M345.84 100.5V102.8M350.89 100.5V102.8M353.92 100.5V102.8M356.06 100.5V102.8M357.73 100.5V102.8M359.09 100.5V102.8M360.24 100.5V102.8M361.24 100.5V102.8M362.11 100.5V102.8M368.53 100.5V102.8M371.55 100.5V102.8M373.7 100.5V102.8M375.37 100.5V102.8M376.73 100.5V102.8M377.88 100.5V102.8M378.87 100.5V102.8M379.75 100.5V102.8M385.26 100.5V102.8M321.21 100.5V102.8M323.95 100.5V102.8M326.7 100.5V102.8M313.82 100.5V102.8M316.14 100.5V102.8" stroke="#161616" stroke-width="1.1" fill="none"/><rect x="311.5" y="24.7" width="75.7" height="75.8" fill="none" stroke="#161616" stroke-width="1.5"/><path d="M311.9 83.1C311.98 84.92 312.23 91.95 312.4 94C312.57 96.05 312.53 95.55 312.9 95.4C313.27 95.25 313.87 94.13 314.6 93.1C315.33 92.07 316.4 90.87 317.3 89.2C318.2 87.53 319.17 85.4 320 83.1C320.83 80.8 321.6 77.97 322.3 75.4C323 72.83 323.7 69.9 324.2 67.7C324.7 65.5 325 63.73 325.3 62.2C325.6 60.67 325.73 60.08 326 58.5C326.27 56.92 326.53 54.73 326.9 52.7C327.27 50.67 327.77 48.43 328.2 46.3C328.63 44.17 329.08 42.02 329.5 39.9C329.92 37.78 330.37 35.17 330.7 33.6C331.03 32.03 331.23 31.3 331.5 30.5C331.77 29.7 332.03 28.92 332.3 28.8C332.57 28.68 332.83 29.33 333.1 29.8C333.37 30.27 333.6 30.45 333.9 31.6C334.2 32.75 334.58 34.78 334.9 36.7C335.22 38.62 335.48 40.97 335.8 43.1C336.12 45.23 336.52 47.18 336.8 49.5C337.08 51.82 337.22 53.97 337.5 57C337.78 60.03 338.15 64.63 338.5 67.7C338.85 70.77 339.22 72.83 339.6 75.4C339.98 77.97 340.35 80.53 340.8 83.1C341.25 85.67 341.73 88.62 342.3 90.8C342.87 92.98 343.43 94.92 344.2 96.2C344.97 97.48 345.93 97.88 346.9 98.5C347.87 99.12 349.22 99.7 350 99.95C350.78 100.2 351.07 99.94 351.61 99.98C352.14 100.02 352.68 100.14 353.22 100.19C353.75 100.23 354.29 100.3 354.83 100.25C355.36 100.2 355.9 99.98 356.43 99.89C356.97 99.8 357.51 99.67 358.04 99.72C358.58 99.76 359.12 100.08 359.65 100.18C360.19 100.28 360.72 100.34 361.26 100.29C361.8 100.25 362.33 100.02 362.87 99.92C363.41 99.83 363.94 99.74 364.48 99.72C365.01 99.7 365.55 99.76 366.09 99.81C366.62 99.87 367.16 100 367.7 100.04C368.23 100.09 368.77 100.09 369.3 100.06C369.84 100.04 370.38 99.87 370.91 99.9C371.45 99.93 371.99 100.21 372.52 100.24C373.06 100.27 373.59 100.15 374.13 100.08C374.67 100.01 375.2 99.83 375.74 99.83C376.28 99.82 376.81 100.11 377.35 100.06C377.88 100 378.42 99.51 378.96 99.5C379.49 99.5 380.03 99.99 380.57 100.03C381.1 100.07 381.64 99.73 382.17 99.75C382.71 99.77 383.25 100.13 383.78 100.15C384.32 100.18 384.86 99.94 385.39 99.91C385.93 99.88 386.73 99.94 387 99.95" fill="none" stroke="#901a3c" stroke-width="1.9" stroke-linejoin="round" stroke-linecap="round"/><path d="M310.75 100.5H387.95" stroke="#161616" stroke-width="1.5" stroke-opacity="0.6"/><text x="304.6" y="102.9" text-anchor="end" class="t">0</text><text x="304.6" y="88.34" text-anchor="end" class="t">20</text><text x="304.6" y="73.78" text-anchor="end" class="t">40</text><text x="304.6" y="59.22" text-anchor="end" class="t">60</text><text x="304.6" y="44.66" text-anchor="end" class="t">80</text><text x="304.6" y="30.1" text-anchor="end" class="t">100</text><g class="yt" transform="translate(284.8 62.6) rotate(-90)"><text x="-37.6" textLength="23.8" lengthAdjust="spacingAndGlyphs">Relative</text><text x="-11.9" textLength="10.2" lengthAdjust="spacingAndGlyphs">cell</text><text x="0.2" textLength="25.2" lengthAdjust="spacingAndGlyphs">number</text><text x="26.6" textLength="11" lengthAdjust="spacingAndGlyphs">(%)</text></g><text x="318.46" y="113" text-anchor="middle" class="t">0</text><text x="329.44" y="113" text-anchor="middle" class="t">10<tspan class="s" dy="-3">2</tspan></text><text x="345.72" y="113" text-anchor="middle" class="t">10<tspan class="s" dy="-3">3</tspan></text><text x="363.35" y="113" text-anchor="middle" class="t">10<tspan class="s" dy="-3">4</tspan></text><text x="380.08" y="113" text-anchor="middle" class="t">10<tspan class="s" dy="-3">5</tspan></text><text x="349.35" y="126.5" text-anchor="middle" class="xt" textLength="52" lengthAdjust="spacingAndGlyphs">PD-1 (CD279) PE</text></g>
<g><polygon points="436,100.2 441.7,98.4 446,96.5 450,94.2 452.7,90.8 456.2,84 458.2,73.7 459.5,63 461,55 462.3,48 462.9,42.5 463.6,35.7 464.5,31.5 465.3,29.9 466.1,31.5 466.4,35.7 467.4,46 468.4,56.2 469.2,65 469.9,73.7 471.2,84 473.3,92.9 475.3,98.4 477.4,100.2" fill="#8f96bb"/><path d="M432.1 100.2H435.2M433.3 96.59H435.2M433.3 92.98H435.2M433.3 89.37H435.2M432.1 85.76H435.2M433.3 82.15H435.2M433.3 78.54H435.2M433.3 74.93H435.2M432.1 71.32H435.2M433.3 67.71H435.2M433.3 64.1H435.2M433.3 60.49H435.2M432.1 56.88H435.2M433.3 53.27H435.2M433.3 49.66H435.2M433.3 46.05H435.2M432.1 42.44H435.2M433.3 38.83H435.2M433.3 35.22H435.2M433.3 31.61H435.2M432.1 28H435.2M442.29 100.5V103.7M453.47 100.5V103.7M470.05 100.5V103.7M488.01 100.5V103.7M505.05 100.5V103.7M458.74 100.5V102.8M461.82 100.5V102.8M464.01 100.5V102.8M465.71 100.5V102.8M467.09 100.5V102.8M468.26 100.5V102.8M469.28 100.5V102.8M470.17 100.5V102.8M475.32 100.5V102.8M478.4 100.5V102.8M480.59 100.5V102.8M482.28 100.5V102.8M483.67 100.5V102.8M484.84 100.5V102.8M485.85 100.5V102.8M486.75 100.5V102.8M493.28 100.5V102.8M496.36 100.5V102.8M498.55 100.5V102.8M500.25 100.5V102.8M501.63 100.5V102.8M502.8 100.5V102.8M503.82 100.5V102.8M504.71 100.5V102.8M510.32 100.5V102.8M445.09 100.5V102.8M447.88 100.5V102.8M450.68 100.5V102.8M437.56 100.5V102.8M439.93 100.5V102.8" stroke="#161616" stroke-width="1.1" fill="none"/><rect x="435.2" y="24.7" width="77.1" height="75.8" fill="none" stroke="#161616" stroke-width="1.5"/><path d="M435.3 83.5C435.35 84.58 435.42 87.75 435.6 90C435.78 92.25 435.83 96.35 436.4 97C436.97 97.65 438.07 95.28 439 93.9C439.93 92.52 441 90.95 442 88.7C443 86.45 444.13 83.27 445 80.4C445.87 77.53 446.6 74.4 447.2 71.5C447.8 68.6 448.03 66.12 448.6 63C449.17 59.88 450.03 55.63 450.6 52.8C451.17 49.97 451.53 48.28 452 46C452.47 43.72 452.95 41.27 453.4 39.1C453.85 36.93 454.35 34.35 454.7 33C455.05 31.65 455.22 31.47 455.5 31C455.78 30.53 456.1 30.2 456.4 30.2C456.7 30.2 457 30.53 457.3 31C457.6 31.47 457.88 31.65 458.2 33C458.52 34.35 458.87 36.93 459.2 39.1C459.53 41.27 459.87 43.35 460.2 46C460.53 48.65 460.85 51.53 461.2 55C461.55 58.47 461.93 63.12 462.3 66.8C462.67 70.48 463 73.9 463.4 77.1C463.8 80.3 464.2 83.37 464.7 86C465.2 88.63 465.77 90.95 466.4 92.9C467.03 94.85 467.7 96.53 468.5 97.7C469.3 98.88 470.43 99.57 471.2 99.95C471.97 100.33 472.47 99.95 473.1 99.95C473.73 99.95 474.42 100.01 475 99.95C475.58 99.89 476.07 99.61 476.61 99.61C477.14 99.61 477.68 99.95 478.22 99.96C478.75 99.96 479.29 99.66 479.83 99.63C480.36 99.6 480.9 99.73 481.43 99.75C481.97 99.77 482.51 99.74 483.04 99.76C483.58 99.78 484.12 99.81 484.65 99.87C485.19 99.92 485.72 100.01 486.26 100.07C486.8 100.13 487.33 100.31 487.87 100.24C488.41 100.17 488.94 99.71 489.48 99.65C490.01 99.59 490.55 99.84 491.09 99.87C491.62 99.89 492.16 99.81 492.7 99.81C493.23 99.81 493.77 99.85 494.3 99.88C494.84 99.9 495.38 99.95 495.91 99.96C496.45 99.98 496.99 99.93 497.52 99.94C498.06 99.96 498.59 99.99 499.13 100.05C499.67 100.1 500.2 100.29 500.74 100.28C501.28 100.27 501.81 100.07 502.35 99.97C502.88 99.87 503.42 99.67 503.96 99.68C504.49 99.7 505.03 100.06 505.57 100.07C506.1 100.08 506.64 99.79 507.17 99.75C507.71 99.71 508.25 99.77 508.78 99.83C509.32 99.89 509.86 100.09 510.39 100.11C510.93 100.13 511.73 99.98 512 99.95" fill="none" stroke="#901a3c" stroke-width="1.9" stroke-linejoin="round" stroke-linecap="round"/><path d="M434.45 100.5H513.05" stroke="#161616" stroke-width="1.5" stroke-opacity="0.6"/><text x="428.3" y="102.9" text-anchor="end" class="t">0</text><text x="428.3" y="88.46" text-anchor="end" class="t">20</text><text x="428.3" y="74.02" text-anchor="end" class="t">40</text><text x="428.3" y="59.58" text-anchor="end" class="t">60</text><text x="428.3" y="45.14" text-anchor="end" class="t">80</text><text x="428.3" y="30.7" text-anchor="end" class="t">100</text><g class="yt" transform="translate(408.5 62.6) rotate(-90)"><text x="-37.6" textLength="23.8" lengthAdjust="spacingAndGlyphs">Relative</text><text x="-11.9" textLength="10.2" lengthAdjust="spacingAndGlyphs">cell</text><text x="0.2" textLength="25.2" lengthAdjust="spacingAndGlyphs">number</text><text x="26.6" textLength="11" lengthAdjust="spacingAndGlyphs">(%)</text></g><text x="442.29" y="113" text-anchor="middle" class="t">0</text><text x="453.47" y="113" text-anchor="middle" class="t">10<tspan class="s" dy="-3">2</tspan></text><text x="470.05" y="113" text-anchor="middle" class="t">10<tspan class="s" dy="-3">3</tspan></text><text x="488.01" y="113" text-anchor="middle" class="t">10<tspan class="s" dy="-3">4</tspan></text><text x="505.05" y="113" text-anchor="middle" class="t">10<tspan class="s" dy="-3">5</tspan></text><text x="473.75" y="126.5" text-anchor="middle" class="xt" textLength="56.3" lengthAdjust="spacingAndGlyphs">PD-L1 (CD274) PE</text></g>
<g><polygon points="312.5,222 314,221.5 316.2,220.7 317.7,217.6 318.8,211 319.6,206.1 320.5,202 321.5,198.4 322.5,193 324,184.5 325.2,178 326.3,167.9 327.7,157 328.4,153 329.2,150.8 330.3,153 331.4,154 332.5,160 333.5,168 334.2,176 334.6,183 335.4,194.5 336.5,206.1 338.5,213.8 340.8,219.2 342.3,220.7 345,222" fill="#8f96bb"/><path d="M308.4 222H311.5M309.6 218.34H311.5M309.6 214.67H311.5M309.6 211H311.5M308.4 207.34H311.5M309.6 203.68H311.5M309.6 200.01H311.5M309.6 196.34H311.5M308.4 192.68H311.5M309.6 189.01H311.5M309.6 185.35H311.5M309.6 181.69H311.5M308.4 178.02H311.5M309.6 174.35H311.5M309.6 170.69H311.5M309.6 167.02H311.5M308.4 163.36H311.5M309.6 159.69H311.5M309.6 156.03H311.5M309.6 152.37H311.5M308.4 148.7H311.5M318.46 222.3V225.5M329.44 222.3V225.5M345.72 222.3V225.5M363.35 222.3V225.5M380.08 222.3V225.5M334.61 222.3V224.6M337.64 222.3V224.6M339.79 222.3V224.6M341.45 222.3V224.6M342.81 222.3V224.6M343.96 222.3V224.6M344.96 222.3V224.6M345.84 222.3V224.6M350.89 222.3V224.6M353.92 222.3V224.6M356.06 222.3V224.6M357.73 222.3V224.6M359.09 222.3V224.6M360.24 222.3V224.6M361.24 222.3V224.6M362.11 222.3V224.6M368.53 222.3V224.6M371.55 222.3V224.6M373.7 222.3V224.6M375.37 222.3V224.6M376.73 222.3V224.6M377.88 222.3V224.6M378.87 222.3V224.6M379.75 222.3V224.6M385.26 222.3V224.6M321.21 222.3V224.6M323.95 222.3V224.6M326.7 222.3V224.6M313.82 222.3V224.6M316.14 222.3V224.6" stroke="#161616" stroke-width="1.1" fill="none"/><rect x="311.5" y="146" width="75.7" height="76.3" fill="none" stroke="#161616" stroke-width="1.5"/><path d="M312 221.75C312.18 221.38 312.53 220.06 313.1 219.5C313.67 218.94 314.63 218.85 315.4 218.4C316.17 217.95 317.07 217.32 317.7 216.8C318.33 216.28 318.5 216.18 319.2 215.3C319.9 214.42 321.13 213.03 321.9 211.5C322.67 209.97 323.15 208.03 323.8 206.1C324.45 204.17 325.22 202.47 325.8 199.9C326.38 197.33 326.93 193.52 327.3 190.7C327.67 187.88 327.75 185.58 328 183C328.25 180.42 328.55 177.72 328.8 175.2C329.05 172.68 329.25 169.97 329.5 167.9C329.75 165.83 329.93 164.02 330.3 162.8C330.67 161.58 331.22 161.57 331.7 160.6C332.18 159.63 332.82 158.27 333.2 157C333.58 155.73 333.75 154.03 334 153C334.25 151.97 334.47 150.88 334.7 150.8C334.93 150.72 335.17 151.83 335.4 152.5C335.63 153.17 335.8 152.83 336.1 154.8C336.4 156.77 336.83 160.9 337.2 164.3C337.57 167.7 338 172.08 338.3 175.2C338.6 178.32 338.78 179.78 339 183C339.22 186.22 339.3 191.03 339.6 194.5C339.9 197.97 340.35 200.97 340.8 203.8C341.25 206.63 341.73 209.33 342.3 211.5C342.87 213.67 343.55 215.47 344.2 216.8C344.85 218.13 345.48 218.85 346.2 219.5C346.92 220.15 347.53 220.32 348.5 220.7C349.47 221.07 351.14 221.59 352 221.75C352.86 221.91 353.11 221.7 353.67 221.66C354.22 221.62 354.78 221.57 355.33 221.52C355.89 221.47 356.44 221.28 357 221.36C357.56 221.43 358.11 221.96 358.67 221.96C359.22 221.96 359.78 221.37 360.33 221.35C360.89 221.32 361.44 221.78 362 221.83C362.56 221.88 363.11 221.7 363.67 221.65C364.22 221.59 364.78 221.44 365.33 221.5C365.89 221.56 366.44 221.93 367 222C367.56 222.08 368.11 222.03 368.67 221.95C369.22 221.86 369.78 221.48 370.33 221.48C370.89 221.48 371.44 221.95 372 221.95C372.56 221.96 373.11 221.55 373.67 221.51C374.22 221.47 374.78 221.64 375.33 221.71C375.89 221.79 376.44 221.9 377 221.94C377.56 221.98 378.11 221.95 378.67 221.94C379.22 221.93 379.78 221.98 380.33 221.89C380.89 221.8 381.44 221.48 382 221.39C382.56 221.3 383.11 221.32 383.67 221.37C384.22 221.43 384.78 221.66 385.33 221.72C385.89 221.79 386.72 221.75 387 221.75" fill="none" stroke="#901a3c" stroke-width="1.9" stroke-linejoin="round" stroke-linecap="round"/><path d="M310.75 222.3H387.95" stroke="#161616" stroke-width="1.5" stroke-opacity="0.6"/><text x="304.6" y="224.7" text-anchor="end" class="t">0</text><text x="304.6" y="210.04" text-anchor="end" class="t">20</text><text x="304.6" y="195.38" text-anchor="end" class="t">40</text><text x="304.6" y="180.72" text-anchor="end" class="t">60</text><text x="304.6" y="166.06" text-anchor="end" class="t">80</text><text x="304.6" y="151.4" text-anchor="end" class="t">100</text><g class="yt" transform="translate(284.8 184.15) rotate(-90)"><text x="-37.6" textLength="23.8" lengthAdjust="spacingAndGlyphs">Relative</text><text x="-11.9" textLength="10.2" lengthAdjust="spacingAndGlyphs">cell</text><text x="0.2" textLength="25.2" lengthAdjust="spacingAndGlyphs">number</text><text x="26.6" textLength="11" lengthAdjust="spacingAndGlyphs">(%)</text></g><text x="318.46" y="234.8" text-anchor="middle" class="t">0</text><text x="329.44" y="234.8" text-anchor="middle" class="t">10<tspan class="s" dy="-3">2</tspan></text><text x="345.72" y="234.8" text-anchor="middle" class="t">10<tspan class="s" dy="-3">3</tspan></text><text x="363.35" y="234.8" text-anchor="middle" class="t">10<tspan class="s" dy="-3">4</tspan></text><text x="380.08" y="234.8" text-anchor="middle" class="t">10<tspan class="s" dy="-3">5</tspan></text><text x="349.35" y="248.3" text-anchor="middle" class="xt" textLength="52" lengthAdjust="spacingAndGlyphs">PD-1 (CD279) PE</text></g>
<g><polygon points="458.8,222 460,218.5 462,215.5 463.7,213.3 465,213 466.3,213.3 468.5,206 470.4,199.7 472.4,192.2 474.2,186.9 475.8,179.2 477.3,171.5 478.5,161.5 479.2,156.2 479.8,158 480.5,155 481.2,151.9 481.9,157 482.5,158.5 483.1,157.7 484,159.5 485,158 485.8,159 486.9,155.4 487.5,158 487.7,161.5 488.8,173.1 490,182.3 491.2,190 492.2,196 493.2,204.6 494.6,213.3 496.3,218.3 498,220.2 499.5,222" fill="#8f96bb"/><path d="M432.1 222H435.2M433.3 218.4H435.2M433.3 214.8H435.2M433.3 211.2H435.2M432.1 207.6H435.2M433.3 204H435.2M433.3 200.4H435.2M433.3 196.8H435.2M432.1 193.2H435.2M433.3 189.6H435.2M433.3 186H435.2M433.3 182.4H435.2M432.1 178.8H435.2M433.3 175.2H435.2M433.3 171.6H435.2M433.3 168H435.2M432.1 164.4H435.2M433.3 160.8H435.2M433.3 157.2H435.2M433.3 153.6H435.2M432.1 150H435.2M442.28 222.3V225.5M453.45 222.3V225.5M470 222.3V225.5M487.95 222.3V225.5M504.96 222.3V225.5M458.71 222.3V224.6M461.79 222.3V224.6M463.97 222.3V224.6M465.67 222.3V224.6M467.05 222.3V224.6M468.22 222.3V224.6M469.23 222.3V224.6M470.13 222.3V224.6M475.27 222.3V224.6M478.34 222.3V224.6M480.53 222.3V224.6M482.22 222.3V224.6M483.61 222.3V224.6M484.78 222.3V224.6M485.79 222.3V224.6M486.68 222.3V224.6M493.21 222.3V224.6M496.28 222.3V224.6M498.47 222.3V224.6M500.16 222.3V224.6M501.55 222.3V224.6M502.72 222.3V224.6M503.73 222.3V224.6M504.62 222.3V224.6M510.22 222.3V224.6M445.08 222.3V224.6M447.87 222.3V224.6M450.66 222.3V224.6M437.56 222.3V224.6M439.92 222.3V224.6" stroke="#161616" stroke-width="1.1" fill="none"/><rect x="435.2" y="146.7" width="77" height="75.6" fill="none" stroke="#161616" stroke-width="1.5"/><path d="M435.6 221.75C435.75 221.38 435.93 220.07 436.5 219.5C437.07 218.93 438.28 218.92 439 218.3C439.72 217.68 440.18 216.12 440.8 215.8C441.42 215.48 442.07 216.92 442.7 216.4C443.33 215.88 443.98 214.03 444.6 212.7C445.22 211.37 445.78 210.17 446.4 208.4C447.02 206.63 447.68 203.77 448.3 202.1C448.92 200.43 449.58 200.05 450.1 198.4C450.62 196.75 450.98 195.72 451.4 192.2C451.82 188.68 452.18 181.43 452.6 177.3C453.02 173.17 453.48 169.78 453.9 167.4C454.32 165.02 454.73 163.42 455.1 163C455.47 162.58 455.78 165.62 456.1 164.9C456.42 164.18 456.65 160.57 457 158.7C457.35 156.83 457.9 154.73 458.2 153.7C458.5 152.67 458.48 152.08 458.8 152.5C459.12 152.92 459.68 153.93 460.1 156.2C460.52 158.47 460.88 162.17 461.3 166.1C461.72 170.03 462.3 176.15 462.6 179.8C462.9 183.45 462.83 184.85 463.1 188C463.37 191.15 463.87 195.67 464.2 198.7C464.53 201.73 464.72 204 465.1 206.2C465.48 208.4 465.97 210.18 466.5 211.9C467.03 213.62 467.72 215.18 468.3 216.5C468.88 217.82 469.43 218.93 470 219.8C470.57 220.68 471.03 221.43 471.7 221.75C472.37 222.07 473.34 221.79 474 221.75C474.66 221.71 475.1 221.51 475.65 221.51C476.2 221.51 476.75 221.66 477.3 221.75C477.86 221.84 478.41 221.99 478.96 222.04C479.51 222.09 480.06 222.08 480.61 222.05C481.16 222.03 481.71 221.96 482.26 221.88C482.81 221.79 483.36 221.52 483.91 221.52C484.46 221.52 485.01 221.81 485.57 221.87C486.12 221.92 486.67 221.93 487.22 221.88C487.77 221.82 488.32 221.52 488.87 221.56C489.42 221.6 489.97 222.14 490.52 222.1C491.07 222.06 491.62 221.4 492.17 221.31C492.72 221.23 493.28 221.54 493.83 221.59C494.38 221.63 494.93 221.5 495.48 221.58C496.03 221.66 496.58 222.02 497.13 222.04C497.68 222.07 498.23 221.72 498.78 221.73C499.33 221.73 499.88 222.12 500.43 222.07C500.99 222.02 501.54 221.47 502.09 221.44C502.64 221.4 503.19 221.89 503.74 221.88C504.29 221.87 504.84 221.44 505.39 221.37C505.94 221.3 506.49 221.4 507.04 221.46C507.59 221.53 508.14 221.67 508.7 221.76C509.25 221.85 509.8 222 510.35 222C510.9 222 511.72 221.79 512 221.75" fill="none" stroke="#901a3c" stroke-width="1.9" stroke-linejoin="round" stroke-linecap="round"/><path d="M434.45 222.3H512.95" stroke="#161616" stroke-width="1.5" stroke-opacity="0.6"/><text x="428.3" y="224.7" text-anchor="end" class="t">0</text><text x="428.3" y="210.3" text-anchor="end" class="t">20</text><text x="428.3" y="195.9" text-anchor="end" class="t">40</text><text x="428.3" y="181.5" text-anchor="end" class="t">60</text><text x="428.3" y="167.1" text-anchor="end" class="t">80</text><text x="428.3" y="152.7" text-anchor="end" class="t">100</text><g class="yt" transform="translate(408.5 184.5) rotate(-90)"><text x="-37.6" textLength="23.8" lengthAdjust="spacingAndGlyphs">Relative</text><text x="-11.9" textLength="10.2" lengthAdjust="spacingAndGlyphs">cell</text><text x="0.2" textLength="25.2" lengthAdjust="spacingAndGlyphs">number</text><text x="26.6" textLength="11" lengthAdjust="spacingAndGlyphs">(%)</text></g><text x="442.28" y="234.8" text-anchor="middle" class="t">0</text><text x="453.45" y="234.8" text-anchor="middle" class="t">10<tspan class="s" dy="-3">2</tspan></text><text x="470" y="234.8" text-anchor="middle" class="t">10<tspan class="s" dy="-3">3</tspan></text><text x="487.95" y="234.8" text-anchor="middle" class="t">10<tspan class="s" dy="-3">4</tspan></text><text x="504.96" y="234.8" text-anchor="middle" class="t">10<tspan class="s" dy="-3">5</tspan></text><text x="473.7" y="248.3" text-anchor="middle" class="xt" textLength="56.3" lengthAdjust="spacingAndGlyphs">PD-L1 (CD274) PE</text></g>
<g><polygon points="313,344.7 315.4,341.9 317.7,335.8 319.6,328.1 321.5,320.4 323.1,312.7 325,305 326.2,298.8 327.7,291.1 328.8,283.4 329.6,277 330.4,274.5 331.5,277.5 332.7,277.2 333.6,280 334.3,285 335,292 335.8,298.8 336.8,302 338.1,305 339.2,316.5 340.8,328.1 342.3,335.8 343.8,341.9 345.4,344.7" fill="#8f96bb"/><path d="M308.2 344.7H311.3M309.4 341.08H311.3M309.4 337.46H311.3M309.4 333.84H311.3M308.2 330.22H311.3M309.4 326.6H311.3M309.4 322.98H311.3M309.4 319.36H311.3M308.2 315.74H311.3M309.4 312.12H311.3M309.4 308.5H311.3M309.4 304.88H311.3M308.2 301.26H311.3M309.4 297.64H311.3M309.4 294.02H311.3M309.4 290.4H311.3M308.2 286.78H311.3M309.4 283.16H311.3M309.4 279.54H311.3M309.4 275.92H311.3M308.2 272.3H311.3M318.39 345V348.2M329.57 345V348.2M346.15 345V348.2M364.11 345V348.2M381.15 345V348.2M334.84 345V347.3M337.92 345V347.3M340.11 345V347.3M341.81 345V347.3M343.19 345V347.3M344.36 345V347.3M345.38 345V347.3M346.27 345V347.3M351.42 345V347.3M354.5 345V347.3M356.69 345V347.3M358.38 345V347.3M359.77 345V347.3M360.94 345V347.3M361.95 345V347.3M362.85 345V347.3M369.38 345V347.3M372.46 345V347.3M374.65 345V347.3M376.35 345V347.3M377.73 345V347.3M378.9 345V347.3M379.92 345V347.3M380.81 345V347.3M386.42 345V347.3M321.19 345V347.3M323.98 345V347.3M326.78 345V347.3M313.66 345V347.3M316.03 345V347.3" stroke="#161616" stroke-width="1.1" fill="none"/><rect x="311.3" y="269.1" width="77.1" height="75.9" fill="none" stroke="#161616" stroke-width="1.5"/><path d="M311.6 329.6C311.7 331 312.02 336.07 312.2 338C312.38 339.93 312.43 340.93 312.7 341.2C312.97 341.47 313.22 340.38 313.8 339.6C314.38 338.82 315.3 337.78 316.2 336.5C317.1 335.22 318.32 333.57 319.2 331.9C320.08 330.23 320.73 328.42 321.5 326.5C322.27 324.58 323.08 322.7 323.8 320.4C324.52 318.1 325.35 314.77 325.8 312.7C326.25 310.63 326.25 309.28 326.5 308C326.75 306.72 327.1 306.15 327.3 305C327.5 303.85 327.38 302.78 327.7 301.1C328.02 299.42 328.62 297.08 329.2 294.9C329.78 292.72 330.55 289.92 331.2 288C331.85 286.08 332.53 284.82 333.1 283.4C333.67 281.98 334.2 280.73 334.6 279.5C335 278.27 335.23 277.22 335.5 276C335.77 274.78 336 272.2 336.2 272.2C336.4 272.2 336.58 274.78 336.7 276C336.82 277.22 336.8 277.63 336.9 279.5C337 281.37 336.98 285.02 337.3 287.2C337.62 289.38 338.35 290.67 338.8 292.6C339.25 294.53 339.67 296.73 340 298.8C340.33 300.87 340.48 302.68 340.8 305C341.12 307.32 341.52 310.13 341.9 312.7C342.28 315.27 342.72 317.45 343.1 320.4C343.48 323.35 343.82 327.45 344.2 330.4C344.58 333.35 344.95 336.05 345.4 338.1C345.85 340.15 346.27 341.64 346.9 342.7C347.53 343.76 348.35 344.16 349.2 344.45C350.05 344.74 351.26 344.41 352 344.45C352.74 344.49 353.09 344.65 353.64 344.69C354.18 344.73 354.73 344.68 355.27 344.69C355.82 344.7 356.36 344.77 356.91 344.73C357.45 344.7 358 344.58 358.55 344.46C359.09 344.35 359.64 344.02 360.18 344.03C360.73 344.04 361.27 344.52 361.82 344.53C362.36 344.55 362.91 344.1 363.45 344.11C364 344.12 364.55 344.54 365.09 344.6C365.64 344.66 366.18 344.44 366.73 344.47C367.27 344.49 367.82 344.72 368.36 344.76C368.91 344.81 369.45 344.86 370 344.76C370.55 344.65 371.09 344.24 371.64 344.13C372.18 344.01 372.73 344.06 373.27 344.06C373.82 344.06 374.36 344.07 374.91 344.1C375.45 344.14 376 344.25 376.55 344.29C377.09 344.33 377.64 344.39 378.18 344.37C378.73 344.34 379.27 344.15 379.82 344.11C380.36 344.08 380.91 344.11 381.45 344.15C382 344.19 382.55 344.33 383.09 344.35C383.64 344.38 384.18 344.25 384.73 344.29C385.27 344.33 385.82 344.55 386.36 344.58C386.91 344.6 387.73 344.47 388 344.45" fill="none" stroke="#901a3c" stroke-width="1.9" stroke-linejoin="round" stroke-linecap="round"/><path d="M310.55 345H389.15" stroke="#161616" stroke-width="1.5" stroke-opacity="0.6"/><text x="304.4" y="347.4" text-anchor="end" class="t">0</text><text x="304.4" y="332.92" text-anchor="end" class="t">20</text><text x="304.4" y="318.44" text-anchor="end" class="t">40</text><text x="304.4" y="303.96" text-anchor="end" class="t">60</text><text x="304.4" y="289.48" text-anchor="end" class="t">80</text><text x="304.4" y="275" text-anchor="end" class="t">100</text><g class="yt" transform="translate(284.8 307.05) rotate(-90)"><text x="-37.6" textLength="23.8" lengthAdjust="spacingAndGlyphs">Relative</text><text x="-11.9" textLength="10.2" lengthAdjust="spacingAndGlyphs">cell</text><text x="0.2" textLength="25.2" lengthAdjust="spacingAndGlyphs">number</text><text x="26.6" textLength="11" lengthAdjust="spacingAndGlyphs">(%)</text></g><text x="318.39" y="357.5" text-anchor="middle" class="t">0</text><text x="329.57" y="357.5" text-anchor="middle" class="t">10<tspan class="s" dy="-3">2</tspan></text><text x="346.15" y="357.5" text-anchor="middle" class="t">10<tspan class="s" dy="-3">3</tspan></text><text x="364.11" y="357.5" text-anchor="middle" class="t">10<tspan class="s" dy="-3">4</tspan></text><text x="381.15" y="357.5" text-anchor="middle" class="t">10<tspan class="s" dy="-3">5</tspan></text><text x="349.85" y="371" text-anchor="middle" class="xt" textLength="52" lengthAdjust="spacingAndGlyphs">PD-1 (CD279) PE</text></g>
<g><polygon points="437,344.7 440.2,343.9 444.6,341.3 449,337.7 452.6,334.2 454.8,329.8 456.6,322.7 458.3,313.8 459.7,305 460.4,291.1 461.5,285 463,279.5 464,276 465,273.4 465.7,276 466.2,279.5 466.9,287.2 468.1,294.9 468.6,303 469.2,310 469.6,318.3 471.2,331.5 472.9,338.6 475.6,343.1 479.1,344.7" fill="#8f96bb"/><path d="M431.9 344.7H435M433.1 341.06H435M433.1 337.43H435M433.1 333.8H435M431.9 330.16H435M433.1 326.52H435M433.1 322.89H435M433.1 319.25H435M431.9 315.62H435M433.1 311.99H435M433.1 308.35H435M433.1 304.71H435M431.9 301.08H435M433.1 297.44H435M433.1 293.81H435M433.1 290.18H435M431.9 286.54H435M433.1 282.9H435M433.1 279.27H435M433.1 275.63H435M431.9 272H435M442.1 345V348.2M453.3 345V348.2M469.89 345V348.2M487.88 345V348.2M504.94 345V348.2M458.57 345V347.3M461.66 345V347.3M463.85 345V347.3M465.55 345V347.3M466.93 345V347.3M468.11 345V347.3M469.12 345V347.3M470.02 345V347.3M475.17 345V347.3M478.26 345V347.3M480.45 345V347.3M482.14 345V347.3M483.53 345V347.3M484.7 345V347.3M485.72 345V347.3M486.62 345V347.3M493.16 345V347.3M496.24 345V347.3M498.43 345V347.3M500.13 345V347.3M501.52 345V347.3M502.69 345V347.3M503.71 345V347.3M504.6 345V347.3M510.22 345V347.3M444.9 345V347.3M447.7 345V347.3M450.5 345V347.3M437.37 345V347.3M439.73 345V347.3" stroke="#161616" stroke-width="1.1" fill="none"/><rect x="435" y="268.7" width="77.2" height="76.3" fill="none" stroke="#161616" stroke-width="1.5"/><path d="M435.3 324.5C435.38 327.08 435.65 337.35 435.8 340C435.95 342.65 435.62 341.07 436.2 340.4C436.78 339.73 438.2 337.62 439.3 336C440.4 334.38 441.77 332.62 442.8 330.7C443.83 328.78 444.6 326.57 445.5 324.5C446.4 322.43 447.38 320.37 448.2 318.3C449.02 316.23 449.9 313.82 450.4 312.1C450.9 310.38 450.98 309.18 451.2 308C451.42 306.82 451.38 306.8 451.7 305C452.02 303.2 452.68 299.27 453.1 297.2C453.52 295.13 453.82 294.13 454.2 292.6C454.58 291.07 454.95 289.53 455.4 288C455.85 286.47 456.38 284.82 456.9 283.4C457.42 281.98 458.15 280.73 458.5 279.5C458.85 278.27 458.82 277.02 459 276C459.18 274.98 459.42 273.4 459.6 273.4C459.78 273.4 459.97 274.98 460.1 276C460.23 277.02 460.28 278.27 460.4 279.5C460.52 280.73 460.62 282.23 460.8 283.4C460.98 284.57 461.18 284.97 461.5 286.5C461.82 288.03 462.32 290.3 462.7 292.6C463.08 294.9 463.5 298.23 463.8 300.3C464.1 302.37 464.15 302.75 464.5 305C464.85 307.25 465.45 310.55 465.9 313.8C466.35 317.05 466.77 321.1 467.2 324.5C467.63 327.9 468.07 331.4 468.5 334.2C468.93 337 469.22 339.59 469.8 341.3C470.38 343.01 471.3 343.9 472 344.45C472.7 345 473.33 344.58 474 344.58C474.67 344.58 475.39 344.46 476 344.45C476.61 344.44 477.09 344.45 477.64 344.51C478.18 344.56 478.73 344.82 479.27 344.76C479.82 344.7 480.36 344.26 480.91 344.14C481.45 344.03 482 343.97 482.55 344.04C483.09 344.12 483.64 344.51 484.18 344.57C484.73 344.63 485.27 344.46 485.82 344.4C486.36 344.35 486.91 344.19 487.45 344.23C488 344.27 488.55 344.56 489.09 344.64C489.64 344.73 490.18 344.73 490.73 344.73C491.27 344.74 491.82 344.7 492.36 344.67C492.91 344.65 493.45 344.66 494 344.57C494.55 344.49 495.09 344.13 495.64 344.14C496.18 344.15 496.73 344.62 497.27 344.61C497.82 344.6 498.36 344.15 498.91 344.1C499.45 344.05 500 344.23 500.55 344.32C501.09 344.42 501.64 344.7 502.18 344.67C502.73 344.64 503.27 344.24 503.82 344.15C504.36 344.06 504.91 344.09 505.45 344.13C506 344.18 506.55 344.44 507.09 344.43C507.64 344.42 508.18 344.07 508.73 344.06C509.27 344.05 509.82 344.3 510.36 344.37C510.91 344.43 511.73 344.44 512 344.45" fill="none" stroke="#901a3c" stroke-width="1.9" stroke-linejoin="round" stroke-linecap="round"/><path d="M434.25 345H512.95" stroke="#161616" stroke-width="1.5" stroke-opacity="0.6"/><text x="428.1" y="347.4" text-anchor="end" class="t">0</text><text x="428.1" y="332.86" text-anchor="end" class="t">20</text><text x="428.1" y="318.32" text-anchor="end" class="t">40</text><text x="428.1" y="303.78" text-anchor="end" class="t">60</text><text x="428.1" y="289.24" text-anchor="end" class="t">80</text><text x="428.1" y="274.7" text-anchor="end" class="t">100</text><g class="yt" transform="translate(408.5 306.85) rotate(-90)"><text x="-37.6" textLength="23.8" lengthAdjust="spacingAndGlyphs">Relative</text><text x="-11.9" textLength="10.2" lengthAdjust="spacingAndGlyphs">cell</text><text x="0.2" textLength="25.2" lengthAdjust="spacingAndGlyphs">number</text><text x="26.6" textLength="11" lengthAdjust="spacingAndGlyphs">(%)</text></g><text x="442.1" y="357.5" text-anchor="middle" class="t">0</text><text x="453.3" y="357.5" text-anchor="middle" class="t">10<tspan class="s" dy="-3">2</tspan></text><text x="469.89" y="357.5" text-anchor="middle" class="t">10<tspan class="s" dy="-3">3</tspan></text><text x="487.88" y="357.5" text-anchor="middle" class="t">10<tspan class="s" dy="-3">4</tspan></text><text x="504.94" y="357.5" text-anchor="middle" class="t">10<tspan class="s" dy="-3">5</tspan></text><text x="473.6" y="371" text-anchor="middle" class="xt" textLength="56.3" lengthAdjust="spacingAndGlyphs">PD-L1 (CD274) PE</text></g>
<g><polygon points="66,476.6 67,474.5 68,469 68.8,465.3 69.9,453.9 70.5,442 71.1,430.9 71.5,422 72.2,415.5 72.9,415.5 73.5,416.4 74.1,422 74.7,429.1 75.7,438.7 77,448.2 77.8,455 78.6,461 79.7,466.5 81.4,469.9 83.1,474.5 84.2,476.2 85,476.6" fill="#8f96bb"/><path d="M49.9 476.6H53M51.1 473.45H53M51.1 470.29H53M51.1 467.13H53M49.9 463.98H53M51.1 460.83H53M51.1 457.67H53M51.1 454.51H53M49.9 451.36H53M51.1 448.21H53M51.1 445.05H53M51.1 441.89H53M49.9 438.74H53M51.1 435.59H53M51.1 432.43H53M51.1 429.27H53M49.9 426.12H53M51.1 422.97H53M51.1 419.81H53M51.1 416.65H53M49.9 413.5H53M53 477.3V480.5M69.3 477.3V480.5M85.6 477.3V480.5M101.9 477.3V480.5M118.2 477.3V480.5M57.91 477.3V479.6M60.78 477.3V479.6M62.81 477.3V479.6M64.39 477.3V479.6M65.68 477.3V479.6M66.78 477.3V479.6M67.72 477.3V479.6M68.55 477.3V479.6M74.21 477.3V479.6M77.08 477.3V479.6M79.11 477.3V479.6M80.69 477.3V479.6M81.98 477.3V479.6M83.08 477.3V479.6M84.02 477.3V479.6M84.85 477.3V479.6M90.51 477.3V479.6M93.38 477.3V479.6M95.41 477.3V479.6M96.99 477.3V479.6M98.28 477.3V479.6M99.38 477.3V479.6M100.32 477.3V479.6M101.15 477.3V479.6M106.81 477.3V479.6M109.68 477.3V479.6M111.71 477.3V479.6M113.29 477.3V479.6M114.58 477.3V479.6M115.68 477.3V479.6M116.62 477.3V479.6M117.45 477.3V479.6" stroke="#161616" stroke-width="1.1" fill="none"/><rect x="53" y="409.9" width="65.2" height="67.4" fill="none" stroke="#161616" stroke-width="1.5"/><path d="M50.2 476.4C50.48 476.37 51.32 476.3 51.89 476.25C52.45 476.19 53.01 476.06 53.57 476.06C54.13 476.05 54.7 476.23 55.26 476.23C55.82 476.23 56.38 476.08 56.94 476.06C57.5 476.04 58.07 476.08 58.63 476.13C59.19 476.18 59.75 476.3 60.31 476.34C60.88 476.39 61.52 476.39 62 476.4C62.48 476.41 62.83 476.58 63.2 476.4C63.57 476.22 63.88 475.73 64.2 475.3C64.52 474.87 64.83 474.6 65.1 473.8C65.37 473 65.58 471.57 65.8 470.5C66.02 469.43 66.15 469.3 66.4 467.4C66.65 465.5 67.05 462.17 67.3 459.1C67.55 456.03 67.7 452.27 67.9 449C68.1 445.73 68.33 442.82 68.5 439.5C68.67 436.18 68.75 432.42 68.9 429.1C69.05 425.78 69.23 421.78 69.4 419.6C69.57 417.42 69.7 416.8 69.9 416C70.1 415.2 70.4 414.8 70.6 414.8C70.8 414.8 70.93 415.2 71.1 416C71.27 416.8 71.42 417.95 71.6 419.6C71.78 421.25 72 423.78 72.2 425.9C72.4 428.02 72.62 430.07 72.8 432.3C72.98 434.53 73.1 436.42 73.3 439.3C73.5 442.18 73.67 446.3 74 449.6C74.33 452.9 74.82 456.13 75.3 459.1C75.78 462.07 76.37 465.07 76.9 467.4C77.43 469.73 77.92 471.6 78.5 473.1C79.08 474.6 79.65 475.85 80.4 476.4C81.15 476.95 82.29 476.46 83 476.4C83.71 476.34 84.11 476.03 84.67 476.06C85.22 476.09 85.78 476.47 86.33 476.58C86.89 476.69 87.44 476.8 88 476.7C88.56 476.59 89.11 476.04 89.67 475.95C90.22 475.87 90.78 476.12 91.33 476.17C91.89 476.21 92.44 476.26 93 476.25C93.56 476.23 94.11 476.03 94.67 476.07C95.22 476.12 95.78 476.5 96.33 476.51C96.89 476.52 97.44 476.16 98 476.15C98.56 476.13 99.11 476.45 99.67 476.43C100.22 476.41 100.78 476 101.33 476.02C101.89 476.04 102.44 476.5 103 476.54C103.56 476.59 104.11 476.3 104.67 476.29C105.22 476.28 105.78 476.45 106.33 476.47C106.89 476.49 107.44 476.42 108 476.41C108.56 476.4 109.11 476.4 109.67 476.4C110.22 476.39 110.78 476.33 111.33 476.38C111.89 476.43 112.44 476.72 113 476.71C113.56 476.71 114.11 476.34 114.67 476.34C115.22 476.35 115.78 476.72 116.33 476.73C116.89 476.74 117.72 476.45 118 476.4" fill="none" stroke="#901a3c" stroke-width="1.9" stroke-linejoin="round" stroke-linecap="round"/><path d="M52.25 477.3H118.95" stroke="#161616" stroke-width="1.5" stroke-opacity="0.6"/><text x="46.5" y="479.3" text-anchor="end" class="t">0</text><text x="46.5" y="466.68" text-anchor="end" class="t">20</text><text x="46.5" y="454.06" text-anchor="end" class="t">40</text><text x="46.5" y="441.44" text-anchor="end" class="t">60</text><text x="46.5" y="428.82" text-anchor="end" class="t">80</text><text x="46.5" y="416.2" text-anchor="end" class="t">100</text><g class="yt" transform="translate(26.3 443.6) rotate(-90)"><text x="-37.6" textLength="23.8" lengthAdjust="spacingAndGlyphs">Relative</text><text x="-11.9" textLength="10.2" lengthAdjust="spacingAndGlyphs">cell</text><text x="0.2" textLength="25.2" lengthAdjust="spacingAndGlyphs">number</text><text x="26.6" textLength="11" lengthAdjust="spacingAndGlyphs">(%)</text></g><text x="53" y="489.9" text-anchor="middle" class="t">10<tspan class="s" dy="-3">0</tspan></text><text x="69.3" y="489.9" text-anchor="middle" class="t">10<tspan class="s" dy="-3">1</tspan></text><text x="85.6" y="489.9" text-anchor="middle" class="t">10<tspan class="s" dy="-3">2</tspan></text><text x="101.9" y="489.9" text-anchor="middle" class="t">10<tspan class="s" dy="-3">3</tspan></text><text x="118.2" y="489.9" text-anchor="middle" class="t">10<tspan class="s" dy="-3">4</tspan></text><text x="85.6" y="503" text-anchor="middle" class="xt" textLength="52" lengthAdjust="spacingAndGlyphs">PD-1 (CD279) PE</text></g>
<g><polygon points="186.2,476.6 187.4,470 188.5,462 189.5,452 190.9,440 192,428 193,418 194,414.2 194.8,418 195.5,428 196.3,440 197.3,455 198.2,470 199.5,476.6" fill="#8f96bb"/><path d="M169.2 476.6H172.3M170.4 473.44H172.3M170.4 470.27H172.3M170.4 467.11H172.3M169.2 463.94H172.3M170.4 460.78H172.3M170.4 457.61H172.3M170.4 454.45H172.3M169.2 451.28H172.3M170.4 448.12H172.3M170.4 444.95H172.3M170.4 441.79H172.3M169.2 438.62H172.3M170.4 435.46H172.3M170.4 432.29H172.3M170.4 429.12H172.3M169.2 425.96H172.3M170.4 422.8H172.3M170.4 419.63H172.3M170.4 416.47H172.3M169.2 413.3H172.3M172.3 477.3V480.5M188.73 477.3V480.5M205.15 477.3V480.5M221.57 477.3V480.5M238 477.3V480.5M177.24 477.3V479.6M180.14 477.3V479.6M182.19 477.3V479.6M183.78 477.3V479.6M185.08 477.3V479.6M186.18 477.3V479.6M187.13 477.3V479.6M187.97 477.3V479.6M193.67 477.3V479.6M196.56 477.3V479.6M198.61 477.3V479.6M200.21 477.3V479.6M201.51 477.3V479.6M202.61 477.3V479.6M203.56 477.3V479.6M204.4 477.3V479.6M210.09 477.3V479.6M212.99 477.3V479.6M215.04 477.3V479.6M216.63 477.3V479.6M217.93 477.3V479.6M219.03 477.3V479.6M219.98 477.3V479.6M220.82 477.3V479.6M226.52 477.3V479.6M229.41 477.3V479.6M231.46 477.3V479.6M233.06 477.3V479.6M234.36 477.3V479.6M235.46 477.3V479.6M236.41 477.3V479.6M237.25 477.3V479.6" stroke="#161616" stroke-width="1.1" fill="none"/><rect x="172.3" y="409.9" width="65.7" height="67.4" fill="none" stroke="#161616" stroke-width="1.5"/><path d="M169.5 476.4C169.79 476.44 170.67 476.61 171.25 476.62C171.83 476.64 172.42 476.57 173 476.49C173.58 476.41 174.17 476.13 174.75 476.15C175.33 476.16 175.92 476.59 176.5 476.59C177.08 476.59 177.67 476.18 178.25 476.15C178.83 476.12 179.46 476.36 180 476.4C180.54 476.44 180.92 476.8 181.5 476.4C182.08 476 182.92 475.07 183.5 474C184.08 472.93 184.55 471.5 185 470C185.45 468.5 185.85 466.67 186.2 465C186.55 463.33 186.83 462.5 187.1 460C187.37 457.5 187.57 453.33 187.8 450C188.03 446.67 188.25 443.67 188.5 440C188.75 436.33 189.05 431.67 189.3 428C189.55 424.33 189.78 420.2 190 418C190.22 415.8 190.38 415.22 190.6 414.8C190.82 414.38 191.02 414.63 191.3 415.5C191.58 416.37 191.98 417.58 192.3 420C192.62 422.42 192.92 426.67 193.2 430C193.48 433.33 193.65 436.67 194 440C194.35 443.33 194.83 446.67 195.3 450C195.77 453.33 196.2 456.67 196.8 460C197.4 463.33 198.32 467.67 198.9 470C199.48 472.33 199.82 472.93 200.3 474C200.78 475.07 201.28 475.99 201.8 476.4C202.32 476.81 202.9 476.43 203.45 476.48C203.99 476.52 204.54 476.72 205.09 476.66C205.64 476.6 206.19 476.13 206.74 476.11C207.28 476.09 207.83 476.47 208.38 476.53C208.93 476.59 209.48 476.46 210.03 476.48C210.58 476.51 211.12 476.76 211.67 476.7C212.22 476.63 212.77 476.09 213.32 476.08C213.87 476.07 214.42 476.6 214.96 476.65C215.51 476.7 216.06 476.43 216.61 476.38C217.16 476.33 217.71 476.4 218.25 476.37C218.8 476.33 219.35 476.23 219.9 476.19C220.45 476.14 221 476.1 221.55 476.09C222.09 476.09 222.64 476.15 223.19 476.17C223.74 476.19 224.29 476.17 224.84 476.2C225.38 476.24 225.93 476.4 226.48 476.39C227.03 476.37 227.58 476.13 228.13 476.12C228.68 476.12 229.22 476.33 229.77 476.35C230.32 476.36 230.87 476.2 231.42 476.19C231.97 476.18 232.52 476.3 233.06 476.31C233.61 476.31 234.16 476.17 234.71 476.22C235.26 476.27 235.81 476.57 236.35 476.61C236.9 476.64 237.73 476.43 238 476.4" fill="none" stroke="#901a3c" stroke-width="1.9" stroke-linejoin="round" stroke-linecap="round"/><path d="M171.55 477.3H238.75" stroke="#161616" stroke-width="1.5" stroke-opacity="0.6"/><text x="165.8" y="479.3" text-anchor="end" class="t">0</text><text x="165.8" y="466.64" text-anchor="end" class="t">20</text><text x="165.8" y="453.98" text-anchor="end" class="t">40</text><text x="165.8" y="441.32" text-anchor="end" class="t">60</text><text x="165.8" y="428.66" text-anchor="end" class="t">80</text><text x="165.8" y="416" text-anchor="end" class="t">100</text><g class="yt" transform="translate(144.8 443.6) rotate(-90)"><text x="-37.6" textLength="23.8" lengthAdjust="spacingAndGlyphs">Relative</text><text x="-11.9" textLength="10.2" lengthAdjust="spacingAndGlyphs">cell</text><text x="0.2" textLength="25.2" lengthAdjust="spacingAndGlyphs">number</text><text x="26.6" textLength="11" lengthAdjust="spacingAndGlyphs">(%)</text></g><text x="172.3" y="489.9" text-anchor="middle" class="t">10<tspan class="s" dy="-3">0</tspan></text><text x="188.73" y="489.9" text-anchor="middle" class="t">10<tspan class="s" dy="-3">1</tspan></text><text x="205.15" y="489.9" text-anchor="middle" class="t">10<tspan class="s" dy="-3">2</tspan></text><text x="221.57" y="489.9" text-anchor="middle" class="t">10<tspan class="s" dy="-3">3</tspan></text><text x="238" y="489.9" text-anchor="middle" class="t">10<tspan class="s" dy="-3">4</tspan></text><text x="205.15" y="503" text-anchor="middle" class="xt" textLength="52" lengthAdjust="spacingAndGlyphs">PD-1 (CD279) PE</text></g>
<g><polygon points="67,591.1 67.6,590.7 68.8,587.2 70.5,578 72.2,563.1 73.3,545.9 73.9,537 74.5,532.2 75,537 75.6,545.9 77.4,563.1 79.1,574.6 80.8,582.6 82.5,588.4 84.2,591.1 85,591.1" fill="#8f96bb"/><path d="M49.9 591.1H53M51.1 587.97H53M51.1 584.84H53M51.1 581.71H53M49.9 578.58H53M51.1 575.45H53M51.1 572.32H53M51.1 569.19H53M49.9 566.06H53M51.1 562.93H53M51.1 559.8H53M51.1 556.67H53M49.9 553.54H53M51.1 550.41H53M51.1 547.28H53M51.1 544.15H53M49.9 541.02H53M51.1 537.89H53M51.1 534.76H53M51.1 531.63H53M49.9 528.5H53M53 591.8V595M69.38 591.8V595M85.75 591.8V595M102.12 591.8V595M118.5 591.8V595M57.93 591.8V594.1M60.81 591.8V594.1M62.86 591.8V594.1M64.45 591.8V594.1M65.74 591.8V594.1M66.84 591.8V594.1M67.79 591.8V594.1M68.63 591.8V594.1M74.3 591.8V594.1M77.19 591.8V594.1M79.23 591.8V594.1M80.82 591.8V594.1M82.12 591.8V594.1M83.21 591.8V594.1M84.16 591.8V594.1M85 591.8V594.1M90.68 591.8V594.1M93.56 591.8V594.1M95.61 591.8V594.1M97.2 591.8V594.1M98.49 591.8V594.1M99.59 591.8V594.1M100.54 591.8V594.1M101.38 591.8V594.1M107.05 591.8V594.1M109.94 591.8V594.1M111.98 591.8V594.1M113.57 591.8V594.1M114.87 591.8V594.1M115.96 591.8V594.1M116.91 591.8V594.1M117.75 591.8V594.1" stroke="#161616" stroke-width="1.1" fill="none"/><rect x="53" y="525.4" width="65.5" height="66.4" fill="none" stroke="#161616" stroke-width="1.5"/><path d="M50.2 590.9C50.5 590.83 51.4 590.47 52 590.46C52.6 590.45 53.2 590.76 53.8 590.83C54.4 590.89 55 590.86 55.6 590.88C56.2 590.9 56.8 591.01 57.4 590.95C58 590.9 58.6 590.55 59.2 590.54C59.8 590.54 60.53 590.84 61 590.9C61.47 590.96 61.67 590.9 62 590.9C62.33 590.9 62.67 591.22 63 590.9C63.33 590.58 63.72 589.8 64 589C64.28 588.2 64.48 587.6 64.7 586.1C64.92 584.6 65.12 582.35 65.3 580C65.48 577.65 65.62 574.8 65.8 572C65.98 569.2 66.2 565.93 66.4 563.2C66.6 560.47 66.8 558.25 67 555.6C67.2 552.95 67.38 550.28 67.6 547.3C67.82 544.32 68.08 540.17 68.3 537.7C68.52 535.23 68.68 533.77 68.9 532.5C69.12 531.23 69.35 530.27 69.6 530.1C69.85 529.93 70.15 530.75 70.4 531.5C70.65 532.25 70.9 532.52 71.1 534.6C71.3 536.68 71.43 540.77 71.6 544C71.77 547.23 71.9 550.67 72.1 554C72.3 557.33 72.48 560.65 72.8 564C73.12 567.35 73.48 571.03 74 574.1C74.52 577.17 75.2 580.07 75.9 582.4C76.6 584.73 77.35 586.68 78.2 588.1C79.05 589.52 80.03 590.43 81 590.9C81.97 591.37 83.23 590.9 84 590.9C84.77 590.9 85.08 590.99 85.62 590.91C86.16 590.84 86.7 590.43 87.24 590.45C87.78 590.48 88.32 591.01 88.86 591.08C89.4 591.15 89.94 590.95 90.48 590.86C91.02 590.78 91.56 590.51 92.1 590.55C92.63 590.59 93.17 591.07 93.71 591.12C94.25 591.17 94.79 590.97 95.33 590.86C95.87 590.75 96.41 590.49 96.95 590.45C97.49 590.41 98.03 590.57 98.57 590.61C99.11 590.65 99.65 590.61 100.19 590.68C100.73 590.76 101.27 590.99 101.81 591.07C102.35 591.15 102.89 591.2 103.43 591.16C103.97 591.12 104.51 590.84 105.05 590.83C105.59 590.83 106.13 591.05 106.67 591.11C107.21 591.17 107.75 591.21 108.29 591.19C108.83 591.17 109.37 591.02 109.9 590.99C110.44 590.97 110.98 591.01 111.52 591.05C112.06 591.08 112.6 591.21 113.14 591.19C113.68 591.17 114.22 590.94 114.76 590.92C115.3 590.91 115.84 591.1 116.38 591.09C116.92 591.09 117.73 590.93 118 590.9" fill="none" stroke="#901a3c" stroke-width="1.9" stroke-linejoin="round" stroke-linecap="round"/><path d="M52.25 591.8H119.25" stroke="#161616" stroke-width="1.5" stroke-opacity="0.6"/><text x="46.5" y="593.8" text-anchor="end" class="t">0</text><text x="46.5" y="581.28" text-anchor="end" class="t">20</text><text x="46.5" y="568.76" text-anchor="end" class="t">40</text><text x="46.5" y="556.24" text-anchor="end" class="t">60</text><text x="46.5" y="543.72" text-anchor="end" class="t">80</text><text x="46.5" y="531.2" text-anchor="end" class="t">100</text><g class="yt" transform="translate(26.3 558.6) rotate(-90)"><text x="-37.6" textLength="23.8" lengthAdjust="spacingAndGlyphs">Relative</text><text x="-11.9" textLength="10.2" lengthAdjust="spacingAndGlyphs">cell</text><text x="0.2" textLength="25.2" lengthAdjust="spacingAndGlyphs">number</text><text x="26.6" textLength="11" lengthAdjust="spacingAndGlyphs">(%)</text></g><text x="53" y="604.4" text-anchor="middle" class="t">10<tspan class="s" dy="-3">0</tspan></text><text x="69.38" y="604.4" text-anchor="middle" class="t">10<tspan class="s" dy="-3">1</tspan></text><text x="85.75" y="604.4" text-anchor="middle" class="t">10<tspan class="s" dy="-3">2</tspan></text><text x="102.12" y="604.4" text-anchor="middle" class="t">10<tspan class="s" dy="-3">3</tspan></text><text x="118.5" y="604.4" text-anchor="middle" class="t">10<tspan class="s" dy="-3">4</tspan></text><text x="85.75" y="617.5" text-anchor="middle" class="xt" textLength="56.3" lengthAdjust="spacingAndGlyphs">PD-L1 (CD274) PE</text></g>
<g><polygon points="179.4,591.1 181.5,585.4 183.4,574 184.8,559.8 185.8,546.5 186.8,538 187.6,535 188.6,539 189.6,546.5 190.8,557 192.2,566.9 193.6,574 194.9,578 196.5,581.5 198.4,584.9 201.8,588.4 206.4,590.7 210,591.1" fill="#8f96bb"/><path d="M169.2 591.1H172.3M170.4 587.97H172.3M170.4 584.84H172.3M170.4 581.71H172.3M169.2 578.58H172.3M170.4 575.45H172.3M170.4 572.32H172.3M170.4 569.19H172.3M169.2 566.06H172.3M170.4 562.93H172.3M170.4 559.8H172.3M170.4 556.67H172.3M169.2 553.54H172.3M170.4 550.41H172.3M170.4 547.28H172.3M170.4 544.15H172.3M169.2 541.02H172.3M170.4 537.89H172.3M170.4 534.76H172.3M170.4 531.63H172.3M169.2 528.5H172.3M172.3 591.8V595M188.73 591.8V595M205.15 591.8V595M221.57 591.8V595M238 591.8V595M177.24 591.8V594.1M180.14 591.8V594.1M182.19 591.8V594.1M183.78 591.8V594.1M185.08 591.8V594.1M186.18 591.8V594.1M187.13 591.8V594.1M187.97 591.8V594.1M193.67 591.8V594.1M196.56 591.8V594.1M198.61 591.8V594.1M200.21 591.8V594.1M201.51 591.8V594.1M202.61 591.8V594.1M203.56 591.8V594.1M204.4 591.8V594.1M210.09 591.8V594.1M212.99 591.8V594.1M215.04 591.8V594.1M216.63 591.8V594.1M217.93 591.8V594.1M219.03 591.8V594.1M219.98 591.8V594.1M220.82 591.8V594.1M226.52 591.8V594.1M229.41 591.8V594.1M231.46 591.8V594.1M233.06 591.8V594.1M234.36 591.8V594.1M235.46 591.8V594.1M236.41 591.8V594.1M237.25 591.8V594.1" stroke="#161616" stroke-width="1.1" fill="none"/><rect x="172.3" y="525.4" width="65.7" height="66.4" fill="none" stroke="#161616" stroke-width="1.5"/><path d="M169.5 590.9C169.81 590.84 170.72 590.49 171.33 590.52C171.94 590.55 172.56 591.01 173.17 591.07C173.78 591.13 174.53 590.93 175 590.9C175.47 590.87 175.63 591.08 176 590.9C176.37 590.72 176.82 590.22 177.2 589.8C177.58 589.38 177.97 589.12 178.3 588.4C178.63 587.68 178.92 586.65 179.2 585.5C179.48 584.35 179.58 583.88 180 581.5C180.42 579.12 181.12 575.22 181.7 571.2C182.28 567.18 182.92 562.57 183.5 557.4C184.08 552.23 184.78 544.27 185.2 540.2C185.62 536.13 185.72 534.72 186 533C186.28 531.28 186.57 530.15 186.9 529.9C187.23 529.65 187.62 530.35 188 531.5C188.38 532.65 188.82 533.43 189.2 536.8C189.58 540.17 189.92 546.73 190.3 551.7C190.68 556.67 191.12 562.4 191.5 566.6C191.88 570.8 192.12 573.85 192.6 576.9C193.08 579.95 193.72 582.8 194.4 584.9C195.08 587 195.85 588.5 196.7 589.5C197.55 590.5 198.77 590.72 199.5 590.9C200.23 591.08 200.57 590.63 201.1 590.61C201.64 590.58 202.17 590.65 202.71 590.76C203.24 590.86 203.78 591.24 204.31 591.22C204.85 591.2 205.38 590.75 205.92 590.66C206.45 590.57 206.99 590.73 207.52 590.7C208.06 590.67 208.59 590.45 209.12 590.48C209.66 590.52 210.19 590.86 210.73 590.92C211.26 590.97 211.8 590.8 212.33 590.84C212.87 590.87 213.4 591.17 213.94 591.13C214.47 591.09 215.01 590.64 215.54 590.6C216.08 590.55 216.61 590.76 217.15 590.84C217.68 590.93 218.22 591.08 218.75 591.11C219.28 591.13 219.82 590.99 220.35 590.99C220.89 591 221.42 591.18 221.96 591.15C222.49 591.12 223.03 590.81 223.56 590.81C224.1 590.81 224.63 591.14 225.17 591.15C225.7 591.15 226.24 590.86 226.77 590.85C227.31 590.84 227.84 591.05 228.38 591.09C228.91 591.12 229.44 591.1 229.98 591.06C230.51 591.02 231.05 590.86 231.58 590.85C232.12 590.84 232.65 590.99 233.19 591C233.72 591.01 234.26 590.88 234.79 590.89C235.33 590.89 235.86 591.04 236.4 591.04C236.93 591.04 237.73 590.92 238 590.9" fill="none" stroke="#901a3c" stroke-width="1.9" stroke-linejoin="round" stroke-linecap="round"/><path d="M171.55 591.8H238.75" stroke="#161616" stroke-width="1.5" stroke-opacity="0.6"/><text x="165.8" y="593.8" text-anchor="end" class="t">0</text><text x="165.8" y="581.28" text-anchor="end" class="t">20</text><text x="165.8" y="568.76" text-anchor="end" class="t">40</text><text x="165.8" y="556.24" text-anchor="end" class="t">60</text><text x="165.8" y="543.72" text-anchor="end" class="t">80</text><text x="165.8" y="531.2" text-anchor="end" class="t">100</text><g class="yt" transform="translate(144.8 558.6) rotate(-90)"><text x="-37.6" textLength="23.8" lengthAdjust="spacingAndGlyphs">Relative</text><text x="-11.9" textLength="10.2" lengthAdjust="spacingAndGlyphs">cell</text><text x="0.2" textLength="25.2" lengthAdjust="spacingAndGlyphs">number</text><text x="26.6" textLength="11" lengthAdjust="spacingAndGlyphs">(%)</text></g><text x="172.3" y="604.4" text-anchor="middle" class="t">10<tspan class="s" dy="-3">0</tspan></text><text x="188.73" y="604.4" text-anchor="middle" class="t">10<tspan class="s" dy="-3">1</tspan></text><text x="205.15" y="604.4" text-anchor="middle" class="t">10<tspan class="s" dy="-3">2</tspan></text><text x="221.57" y="604.4" text-anchor="middle" class="t">10<tspan class="s" dy="-3">3</tspan></text><text x="238" y="604.4" text-anchor="middle" class="t">10<tspan class="s" dy="-3">4</tspan></text><text x="205.15" y="617.5" text-anchor="middle" class="xt" textLength="56.3" lengthAdjust="spacingAndGlyphs">PD-L1 (CD274) PE</text></g>
<text x="6.9" y="16.9" class="pl">A</text>
<text x="265.2" y="17" class="pl">B</text>
<text x="7" y="399.6" class="pl">C</text>
<rect x="0.75" y="0.75" width="518.5" height="626.5" fill="none" stroke="#000" stroke-width="1.5"/>
</svg>
</body></html>
